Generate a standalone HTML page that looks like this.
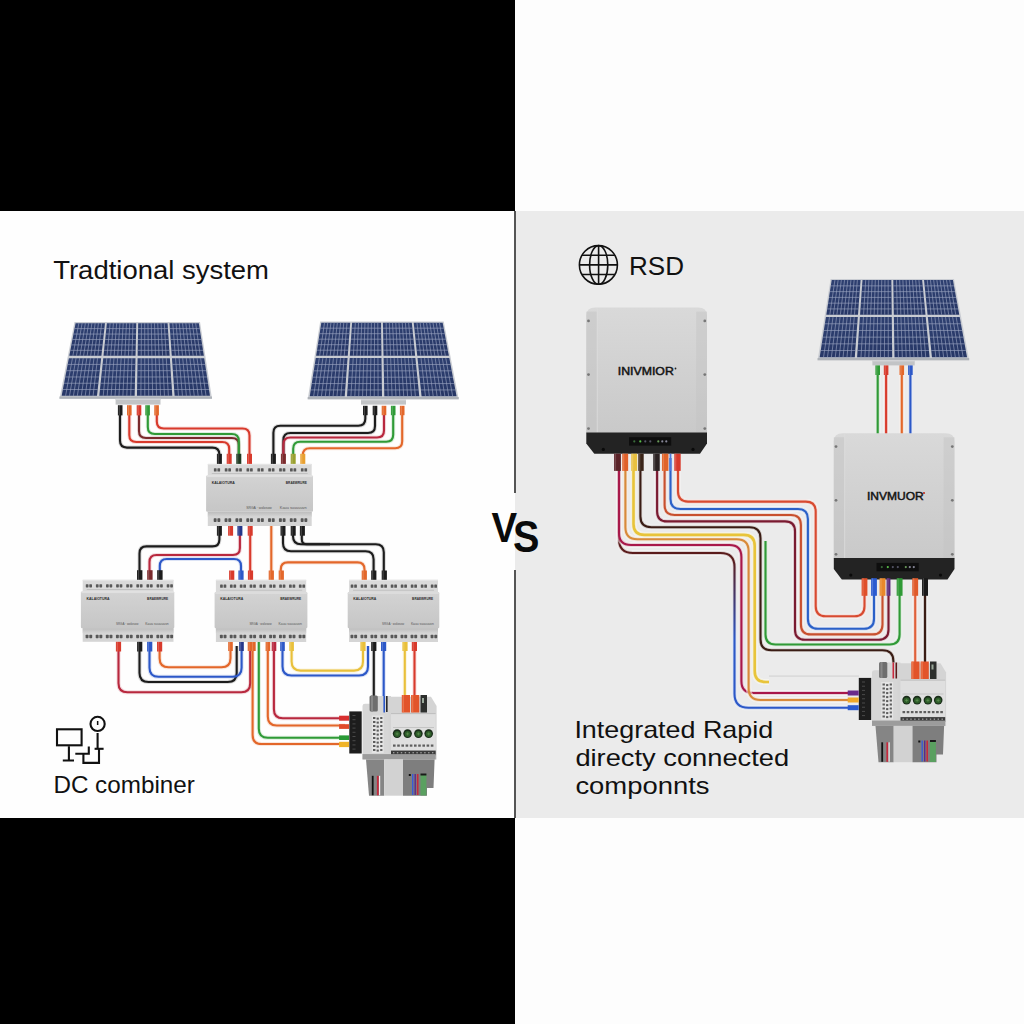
<!DOCTYPE html><html><head><meta charset="utf-8"><style>html,body{margin:0;padding:0;background:#000;}svg{display:block;}text{font-family:"Liberation Sans",sans-serif;}</style></head><body>
<svg width="1024" height="1024" viewBox="0 0 1024 1024">
<defs>
<linearGradient id="cellg" x1="0" y1="0" x2="0.3" y2="1"><stop offset="0" stop-color="#2f4172"/><stop offset="1" stop-color="#273766"/></linearGradient>
<linearGradient id="bodyg" x1="0" y1="0" x2="0" y2="1"><stop offset="0" stop-color="#d3d3d3"/><stop offset="1" stop-color="#c6c6c6"/></linearGradient>
<linearGradient id="invg" x1="0" y1="0" x2="0" y2="1"><stop offset="0" stop-color="#d9d9d9"/><stop offset="1" stop-color="#c9c9c9"/></linearGradient>
<linearGradient id="invs" x1="0" y1="0" x2="0" y2="1"><stop offset="0" stop-color="#cfcfcf"/><stop offset="1" stop-color="#c2c2c2"/></linearGradient>
<linearGradient id="mbg" gradientUnits="userSpaceOnUse" x1="0" y1="560" x2="0" y2="640"><stop offset="0" stop-color="#5a1c1c"/><stop offset="1" stop-color="#2c58c8"/></linearGradient>
<linearGradient id="bandg" x1="0" y1="0" x2="0" y2="1"><stop offset="0" stop-color="#bcbcbc"/><stop offset="1" stop-color="#d5d5d5"/></linearGradient>
</defs>
<rect x="0" y="0" width="1024" height="1024" fill="#000"/>
<rect x="515" y="0" width="509" height="1024" fill="#fdfdfd"/>
<rect x="0" y="211" width="515" height="607" fill="#fefefe"/>
<rect x="515" y="211" width="509" height="607" fill="#ebebeb"/>
<rect x="514" y="211" width="2" height="282" fill="#555"/>
<rect x="514" y="570" width="2" height="248" fill="#555"/>
<text x="53.2" y="279.4" font-size="25.2" fill="#111" textLength="215.8" lengthAdjust="spacingAndGlyphs">Tradtional system</text>
<path d="M120 410 L120 440.6 Q120 447.6 127 447.6 L212.4 447.6 Q219.4 447.6 219.4 454.6 L219.4 458" fill="none" stroke="#1c1c1c" stroke-opacity="0.16" stroke-width="4.1" stroke-linejoin="round"/><path d="M120 410 L120 440.6 Q120 447.6 127 447.6 L212.4 447.6 Q219.4 447.6 219.4 454.6 L219.4 458" fill="none" stroke="#1c1c1c" stroke-width="2.1" stroke-linejoin="round"/>
<path d="M129.3 410 L129.3 435 Q129.3 442 136.3 442 L222.2 442 Q229.2 442 229.2 449 L229.2 458" fill="none" stroke="#d83a2c" stroke-opacity="0.16" stroke-width="4.1" stroke-linejoin="round"/><path d="M129.3 410 L129.3 435 Q129.3 442 136.3 442 L222.2 442 Q229.2 442 229.2 449 L229.2 458" fill="none" stroke="#d83a2c" stroke-width="2.1" stroke-linejoin="round"/>
<path d="M139 410 L139 431 Q139 438 146 438 L231.8 438 Q238.8 438 238.8 445 L238.8 458" fill="none" stroke="#7a2a2c" stroke-opacity="0.16" stroke-width="4.1" stroke-linejoin="round"/><path d="M139 410 L139 431 Q139 438 146 438 L231.8 438 Q238.8 438 238.8 445 L238.8 458" fill="none" stroke="#7a2a2c" stroke-width="2.1" stroke-linejoin="round"/>
<path d="M147.8 410 L147.8 427 Q147.8 434 154.8 434 L231.8 434 Q238.8 434 238.8 441 L238.8 458" fill="none" stroke="#2f9a36" stroke-opacity="0.16" stroke-width="4.1" stroke-linejoin="round"/><path d="M147.8 410 L147.8 427 Q147.8 434 154.8 434 L231.8 434 Q238.8 434 238.8 441 L238.8 458" fill="none" stroke="#2f9a36" stroke-width="2.1" stroke-linejoin="round"/>
<path d="M156.8 410 L156.8 421.5 Q156.8 428.5 163.8 428.5 L242.5 428.5 Q249.5 428.5 249.5 435.5 L249.5 458" fill="none" stroke="#d83a2c" stroke-opacity="0.16" stroke-width="4.1" stroke-linejoin="round"/><path d="M156.8 410 L156.8 421.5 Q156.8 428.5 163.8 428.5 L242.5 428.5 Q249.5 428.5 249.5 435.5 L249.5 458" fill="none" stroke="#d83a2c" stroke-width="2.1" stroke-linejoin="round"/>
<path d="M365.3 410 L365.3 418.7 Q365.3 425.7 358.3 425.7 L280.4 425.7 Q273.4 425.7 273.4 432.7 L273.4 458" fill="none" stroke="#1c1c1c" stroke-opacity="0.16" stroke-width="4.1" stroke-linejoin="round"/><path d="M365.3 410 L365.3 418.7 Q365.3 425.7 358.3 425.7 L280.4 425.7 Q273.4 425.7 273.4 432.7 L273.4 458" fill="none" stroke="#1c1c1c" stroke-width="2.1" stroke-linejoin="round"/>
<path d="M375 410 L375 426 Q375 433 368 433 L290.4 433 Q283.4 433 283.4 440 L283.4 458" fill="none" stroke="#1c1c1c" stroke-opacity="0.16" stroke-width="4.1" stroke-linejoin="round"/><path d="M375 410 L375 426 Q375 433 368 433 L290.4 433 Q283.4 433 283.4 440 L283.4 458" fill="none" stroke="#1c1c1c" stroke-width="2.1" stroke-linejoin="round"/>
<path d="M384 410 L384 430.5 Q384 437.5 377 437.5 L290.4 437.5 Q283.4 437.5 283.4 444.5 L283.4 458" fill="none" stroke="#b8283e" stroke-opacity="0.16" stroke-width="4.1" stroke-linejoin="round"/><path d="M384 410 L384 430.5 Q384 437.5 377 437.5 L290.4 437.5 Q283.4 437.5 283.4 444.5 L283.4 458" fill="none" stroke="#b8283e" stroke-width="2.1" stroke-linejoin="round"/>
<path d="M393.2 410 L393.2 434.8 Q393.2 441.8 386.2 441.8 L300.2 441.8 Q293.2 441.8 293.2 448.8 L293.2 458" fill="none" stroke="#2f9a36" stroke-opacity="0.16" stroke-width="4.1" stroke-linejoin="round"/><path d="M393.2 410 L393.2 434.8 Q393.2 441.8 386.2 441.8 L300.2 441.8 Q293.2 441.8 293.2 448.8 L293.2 458" fill="none" stroke="#2f9a36" stroke-width="2.1" stroke-linejoin="round"/>
<path d="M402.2 410 L402.2 441.2 Q402.2 448.2 395.2 448.2 L309.8 448.2 Q302.8 448.2 302.8 455.2 L302.8 458" fill="none" stroke="#e3672a" stroke-opacity="0.16" stroke-width="4.1" stroke-linejoin="round"/><path d="M402.2 410 L402.2 441.2 Q402.2 448.2 395.2 448.2 L309.8 448.2 Q302.8 448.2 302.8 455.2 L302.8 458" fill="none" stroke="#e3672a" stroke-width="2.1" stroke-linejoin="round"/>
<path d="M219.4 530 L219.4 539.4 Q219.4 546.4 212.4 546.4 L146.5 546.4 Q139.5 546.4 139.5 553.4 L139.5 574" fill="none" stroke="#1c1c1c" stroke-opacity="0.16" stroke-width="4.1" stroke-linejoin="round"/><path d="M219.4 530 L219.4 539.4 Q219.4 546.4 212.4 546.4 L146.5 546.4 Q139.5 546.4 139.5 553.4 L139.5 574" fill="none" stroke="#1c1c1c" stroke-width="2.1" stroke-linejoin="round"/>
<path d="M239.9 530 L239.9 548 Q239.9 555 232.9 555 L156.5 555 Q149.5 555 149.5 562 L149.5 574" fill="none" stroke="#b8283e" stroke-opacity="0.16" stroke-width="4.1" stroke-linejoin="round"/><path d="M239.9 530 L239.9 548 Q239.9 555 232.9 555 L156.5 555 Q149.5 555 149.5 562 L149.5 574" fill="none" stroke="#b8283e" stroke-width="2.1" stroke-linejoin="round"/>
<path d="M159.8 574 L159.8 566 Q159.8 559 166.8 559 L234 559 Q241 559 241 566 L241 574" fill="none" stroke="#2c58c8" stroke-opacity="0.16" stroke-width="4.1" stroke-linejoin="round"/><path d="M159.8 574 L159.8 566 Q159.8 559 166.8 559 L234 559 Q241 559 241 566 L241 574" fill="none" stroke="#2c58c8" stroke-width="2.1" stroke-linejoin="round"/>
<path d="M250.2 530 L250.2 574" fill="none" stroke="#d83a2c" stroke-opacity="0.16" stroke-width="4.1" stroke-linejoin="round"/><path d="M250.2 530 L250.2 574" fill="none" stroke="#d83a2c" stroke-width="2.1" stroke-linejoin="round"/>
<path d="M271.3 526 L271.3 574" fill="none" stroke="#e3672a" stroke-opacity="0.16" stroke-width="4.1" stroke-linejoin="round"/><path d="M271.3 526 L271.3 574" fill="none" stroke="#e3672a" stroke-width="2.1" stroke-linejoin="round"/>
<path d="M283 530 L283 543.2 Q283 551.2 291 551.2 L365.6 551.2 Q373.6 551.2 373.6 559.2 L373.6 574" fill="none" stroke="#1c1c1c" stroke-opacity="0.16" stroke-width="4.1" stroke-linejoin="round"/><path d="M283 530 L283 543.2 Q283 551.2 291 551.2 L365.6 551.2 Q373.6 551.2 373.6 559.2 L373.6 574" fill="none" stroke="#1c1c1c" stroke-width="2.1" stroke-linejoin="round"/>
<path d="M293 530 L293 536.3 Q293 544.3 301 544.3 L375.8 544.3 Q383.8 544.3 383.8 552.3 L383.8 574" fill="none" stroke="#1c1c1c" stroke-opacity="0.16" stroke-width="4.1" stroke-linejoin="round"/><path d="M293 530 L293 536.3 Q293 544.3 301 544.3 L375.8 544.3 Q383.8 544.3 383.8 552.3 L383.8 574" fill="none" stroke="#1c1c1c" stroke-width="2.1" stroke-linejoin="round"/>
<path d="M301.8 530 L301.8 539.3 Q301.8 544.3 306.8 544.3 L330 544.3" fill="none" stroke="#1c1c1c" stroke-opacity="0.16" stroke-width="4.1" stroke-linejoin="round"/><path d="M301.8 530 L301.8 539.3 Q301.8 544.3 306.8 544.3 L330 544.3" fill="none" stroke="#1c1c1c" stroke-width="2.1" stroke-linejoin="round"/>
<path d="M280.8 574 L280.8 569.4 Q280.8 562.4 287.8 562.4 L357.5 562.4 Q364.5 562.4 364.5 569.4 L364.5 574" fill="none" stroke="#e3672a" stroke-opacity="0.16" stroke-width="4.1" stroke-linejoin="round"/><path d="M280.8 574 L280.8 569.4 Q280.8 562.4 287.8 562.4 L357.5 562.4 Q364.5 562.4 364.5 569.4 L364.5 574" fill="none" stroke="#e3672a" stroke-width="2.1" stroke-linejoin="round"/>
<path d="M118.5 646 L118.5 683.3 Q118.5 692.3 127.5 692.3 L241.2 692.3 Q250.2 692.3 250.2 683.3 L250.2 646" fill="none" stroke="#b8283e" stroke-opacity="0.16" stroke-width="4.1" stroke-linejoin="round"/><path d="M118.5 646 L118.5 683.3 Q118.5 692.3 127.5 692.3 L241.2 692.3 Q250.2 692.3 250.2 683.3 L250.2 646" fill="none" stroke="#b8283e" stroke-width="2.1" stroke-linejoin="round"/>
<path d="M139.5 646 L139.5 673 Q139.5 682 148.5 682 L227.7 682 Q236.7 682 236.7 673 L236.7 646" fill="none" stroke="#1c1c1c" stroke-opacity="0.16" stroke-width="4.1" stroke-linejoin="round"/><path d="M139.5 646 L139.5 673 Q139.5 682 148.5 682 L227.7 682 Q236.7 682 236.7 673 L236.7 646" fill="none" stroke="#1c1c1c" stroke-width="2.1" stroke-linejoin="round"/>
<path d="M149.5 646 L149.5 667.7 Q149.5 676.7 158.5 676.7 L232.6 676.7 Q241.6 676.7 241.6 667.7 L241.6 646" fill="none" stroke="#2c58c8" stroke-opacity="0.16" stroke-width="4.1" stroke-linejoin="round"/><path d="M149.5 646 L149.5 667.7 Q149.5 676.7 158.5 676.7 L232.6 676.7 Q241.6 676.7 241.6 667.7 L241.6 646" fill="none" stroke="#2c58c8" stroke-width="2.1" stroke-linejoin="round"/>
<path d="M159.6 646 L159.6 658.3 Q159.6 667.3 168.6 667.3 L221.5 667.3 Q230.5 667.3 230.5 658.3 L230.5 646" fill="none" stroke="#e3672a" stroke-opacity="0.16" stroke-width="4.1" stroke-linejoin="round"/><path d="M159.6 646 L159.6 658.3 Q159.6 667.3 168.6 667.3 L221.5 667.3 Q230.5 667.3 230.5 658.3 L230.5 646" fill="none" stroke="#e3672a" stroke-width="2.1" stroke-linejoin="round"/>
<path d="M282.5 646 L282.5 666.5 Q282.5 675.5 291.5 675.5 L359 675.5 Q368 675.5 368 666.5 L368 646" fill="none" stroke="#2c58c8" stroke-opacity="0.16" stroke-width="4.1" stroke-linejoin="round"/><path d="M282.5 646 L282.5 666.5 Q282.5 675.5 291.5 675.5 L359 675.5 Q368 675.5 368 666.5 L368 646" fill="none" stroke="#2c58c8" stroke-width="2.1" stroke-linejoin="round"/>
<path d="M291.6 646 L291.6 661.6 Q291.6 670.6 300.6 670.6 L354 670.6 Q363 670.6 363 661.6 L363 646" fill="none" stroke="#e9c03a" stroke-opacity="0.16" stroke-width="4.1" stroke-linejoin="round"/><path d="M291.6 646 L291.6 661.6 Q291.6 670.6 300.6 670.6 L354 670.6 Q363 670.6 363 661.6 L363 646" fill="none" stroke="#e9c03a" stroke-width="2.1" stroke-linejoin="round"/>
<path d="M252.6 646 L252.6 735 Q252.6 744 261.6 744 L345 744" fill="none" stroke="#e3672a" stroke-opacity="0.16" stroke-width="4.1" stroke-linejoin="round"/><path d="M252.6 646 L252.6 735 Q252.6 744 261.6 744 L345 744" fill="none" stroke="#e3672a" stroke-width="2.1" stroke-linejoin="round"/>
<path d="M258.8 640 L258.8 728.7 Q258.8 737.7 267.8 737.7 L345 737.7" fill="none" stroke="#2f9a36" stroke-opacity="0.16" stroke-width="4.1" stroke-linejoin="round"/><path d="M258.8 640 L258.8 728.7 Q258.8 737.7 267.8 737.7 L345 737.7" fill="none" stroke="#2f9a36" stroke-width="2.1" stroke-linejoin="round"/>
<path d="M267.8 646 L267.8 716.5 Q267.8 725.5 276.8 725.5 L345 725.5" fill="none" stroke="#e3672a" stroke-opacity="0.16" stroke-width="4.1" stroke-linejoin="round"/><path d="M267.8 646 L267.8 716.5 Q267.8 725.5 276.8 725.5 L345 725.5" fill="none" stroke="#e3672a" stroke-width="2.1" stroke-linejoin="round"/>
<path d="M273.9 646 L273.9 709.2 Q273.9 718.2 282.9 718.2 L345 718.2" fill="none" stroke="#b8283e" stroke-opacity="0.16" stroke-width="4.1" stroke-linejoin="round"/><path d="M273.9 646 L273.9 709.2 Q273.9 718.2 282.9 718.2 L345 718.2" fill="none" stroke="#b8283e" stroke-width="2.1" stroke-linejoin="round"/>
<path d="M373.8 646 L373.8 700" fill="none" stroke="#1c1c1c" stroke-opacity="0.16" stroke-width="4.1" stroke-linejoin="round"/><path d="M373.8 646 L373.8 700" fill="none" stroke="#1c1c1c" stroke-width="2.1" stroke-linejoin="round"/>
<path d="M383.7 646 L383.7 712" fill="none" stroke="#2c58c8" stroke-opacity="0.16" stroke-width="4.1" stroke-linejoin="round"/><path d="M383.7 646 L383.7 712" fill="none" stroke="#2c58c8" stroke-width="2.1" stroke-linejoin="round"/>
<path d="M404.8 646 L404.8 700" fill="none" stroke="#e9c03a" stroke-opacity="0.16" stroke-width="4.1" stroke-linejoin="round"/><path d="M404.8 646 L404.8 700" fill="none" stroke="#e9c03a" stroke-width="2.1" stroke-linejoin="round"/>
<path d="M414.5 646 L414.5 700" fill="none" stroke="#d83a2c" stroke-opacity="0.16" stroke-width="4.1" stroke-linejoin="round"/><path d="M414.5 646 L414.5 700" fill="none" stroke="#d83a2c" stroke-width="2.1" stroke-linejoin="round"/>
<polygon points="74.5,322 200,322 212,398.8 59.5,398.8" fill="#c9ccd2"/>
<polygon points="59.5,396.6 212,396.6 212,398.8 59.5,398.8" fill="#aeb2b8"/>
<polygon points="75.57,323.2 104.97,323.2 101.4,355.74 69.33,355.74" fill="url(#cellg)"/>
<path d="M74.53 328.62L104.37 328.62M73.49 334.05L103.78 334.05M72.45 339.47L103.19 339.47M71.41 344.9L102.59 344.9M70.37 350.32L102 350.32M78.84 323.2L72.9 355.74M82.1 323.2L76.46 355.74M85.37 323.2L80.02 355.74M88.64 323.2L83.59 355.74M91.9 323.2L87.15 355.74M95.17 323.2L90.71 355.74M98.44 323.2L94.28 355.74M101.7 323.2L97.84 355.74" stroke="#9aa3c0" stroke-width="0.75" fill="none" stroke-opacity="0.85"/>
<polygon points="106.87,323.2 136.27,323.2 135.55,355.74 103.48,355.74" fill="url(#cellg)"/>
<path d="M106.31 328.62L136.15 328.62M105.74 334.05L136.03 334.05M105.18 339.47L135.91 339.47M104.61 344.9L135.79 344.9M104.05 350.32L135.67 350.32M110.14 323.2L107.04 355.74M113.41 323.2L110.61 355.74M116.67 323.2L114.17 355.74M119.94 323.2L117.73 355.74M123.21 323.2L121.3 355.74M126.47 323.2L124.86 355.74M129.74 323.2L128.42 355.74M133.01 323.2L131.99 355.74" stroke="#9aa3c0" stroke-width="0.75" fill="none" stroke-opacity="0.85"/>
<polygon points="138.18,323.2 167.58,323.2 169.7,355.74 137.63,355.74" fill="url(#cellg)"/>
<path d="M138.09 328.62L167.93 328.62M138 334.05L168.29 334.05M137.91 339.47L168.64 339.47M137.81 344.9L168.99 344.9M137.72 350.32L169.35 350.32M141.45 323.2L141.19 355.74M144.71 323.2L144.76 355.74M147.98 323.2L148.32 355.74M151.25 323.2L151.88 355.74M154.51 323.2L155.45 355.74M157.78 323.2L159.01 355.74M161.05 323.2L162.57 355.74M164.31 323.2L166.14 355.74" stroke="#9aa3c0" stroke-width="0.75" fill="none" stroke-opacity="0.85"/>
<polygon points="169.48,323.2 198.88,323.2 203.85,355.74 171.78,355.74" fill="url(#cellg)"/>
<path d="M169.87 328.62L199.71 328.62M170.25 334.05L200.54 334.05M170.63 339.47L201.37 339.47M171.01 344.9L202.19 344.9M171.4 350.32L203.02 350.32M172.75 323.2L175.34 355.74M176.02 323.2L178.91 355.74M179.28 323.2L182.47 355.74M182.55 323.2L186.03 355.74M185.82 323.2L189.6 355.74M189.08 323.2L193.16 355.74M192.35 323.2L196.72 355.74M195.62 323.2L200.29 355.74" stroke="#9aa3c0" stroke-width="0.75" fill="none" stroke-opacity="0.85"/>
<polygon points="68.87,358.14 101.14,358.14 97.01,395.8 61.65,395.8" fill="url(#cellg)"/>
<path d="M67.67 364.42L100.45 364.42M66.47 370.7L99.76 370.7M65.26 376.97L99.08 376.97M64.06 383.25L98.39 383.25M62.86 389.52L97.7 389.52M72.46 358.14L65.58 395.8M76.04 358.14L69.51 395.8M79.63 358.14L73.44 395.8M83.21 358.14L77.37 395.8M86.8 358.14L81.3 395.8M90.38 358.14L85.23 395.8M93.97 358.14L89.15 395.8M97.55 358.14L93.08 395.8" stroke="#9aa3c0" stroke-width="0.75" fill="none" stroke-opacity="0.85"/>
<polygon points="103.23,358.14 135.5,358.14 134.66,395.8 99.3,395.8" fill="url(#cellg)"/>
<path d="M102.58 364.42L135.36 364.42M101.92 370.7L135.22 370.7M101.27 376.97L135.08 376.97M100.61 383.25L134.94 383.25M99.96 389.52L134.8 389.52M106.82 358.14L103.23 395.8M110.4 358.14L107.16 395.8M113.99 358.14L111.09 395.8M117.57 358.14L115.02 395.8M121.16 358.14L118.95 395.8M124.74 358.14L122.88 395.8M128.33 358.14L126.81 395.8M131.91 358.14L130.73 395.8" stroke="#9aa3c0" stroke-width="0.75" fill="none" stroke-opacity="0.85"/>
<polygon points="137.59,358.14 169.86,358.14 172.31,395.8 136.95,395.8" fill="url(#cellg)"/>
<path d="M137.48 364.42L170.27 364.42M137.38 370.7L170.68 370.7M137.27 376.97L171.08 376.97M137.17 383.25L171.49 383.25M137.06 389.52L171.9 389.52M141.18 358.14L140.88 395.8M144.76 358.14L144.81 395.8M148.35 358.14L148.74 395.8M151.93 358.14L152.67 395.8M155.52 358.14L156.6 395.8M159.1 358.14L160.53 395.8M162.69 358.14L164.46 395.8M166.27 358.14L168.38 395.8" stroke="#9aa3c0" stroke-width="0.75" fill="none" stroke-opacity="0.85"/>
<polygon points="171.95,358.14 204.22,358.14 209.96,395.8 174.61,395.8" fill="url(#cellg)"/>
<path d="M172.39 364.42L205.17 364.42M172.83 370.7L206.13 370.7M173.28 376.97L207.09 376.97M173.72 383.25L208.05 383.25M174.16 389.52L209 389.52M175.53 358.14L178.53 395.8M179.12 358.14L182.46 395.8M182.7 358.14L186.39 395.8M186.29 358.14L190.32 395.8M189.88 358.14L194.25 395.8M193.46 358.14L198.18 395.8M197.05 358.14L202.11 395.8M200.63 358.14L206.03 395.8" stroke="#9aa3c0" stroke-width="0.75" fill="none" stroke-opacity="0.85"/>
<rect x="115.6" y="398.8" width="44.9" height="5.8" fill="#c2c4c6"/>
<rect x="115.6" y="398.8" width="44.9" height="1.2" fill="#d6d8da"/>
<rect x="117.9" y="405.2" width="4.6" height="10.2" fill="#1c1c1c"/>
<rect x="118.7" y="405.2" width="1.2" height="10.2" fill="#fff" fill-opacity="0.18"/>
<rect x="127" y="405.2" width="4.6" height="10.2" fill="#e3672a"/>
<rect x="127.8" y="405.2" width="1.2" height="10.2" fill="#fff" fill-opacity="0.18"/>
<rect x="136.7" y="405.2" width="4.6" height="10.2" fill="#d83a2c"/>
<rect x="137.5" y="405.2" width="1.2" height="10.2" fill="#fff" fill-opacity="0.18"/>
<rect x="145.3" y="405.2" width="4.6" height="10.2" fill="#2f9a36"/>
<rect x="146.1" y="405.2" width="1.2" height="10.2" fill="#fff" fill-opacity="0.18"/>
<rect x="154.3" y="405.2" width="4.6" height="10.2" fill="#e3672a"/>
<rect x="155.1" y="405.2" width="1.2" height="10.2" fill="#fff" fill-opacity="0.18"/>
<polygon points="320.2,321.5 443.7,321.5 458.7,399.3 307.7,399.3" fill="#c9ccd2"/>
<polygon points="307.7,397.1 458.7,397.1 458.7,399.3 307.7,399.3" fill="#aeb2b8"/>
<polygon points="321.31,322.7 350.21,322.7 347.75,355.7 316.13,355.7" fill="url(#cellg)"/>
<path d="M320.45 328.2L349.8 328.2M319.59 333.7L349.39 333.7M318.72 339.2L348.98 339.2M317.86 344.7L348.57 344.7M317 350.2L348.16 350.2M324.52 322.7L319.65 355.7M327.73 322.7L323.16 355.7M330.94 322.7L326.67 355.7M334.16 322.7L330.19 355.7M337.37 322.7L333.7 355.7M340.58 322.7L337.21 355.7M343.79 322.7L340.73 355.7M347 322.7L344.24 355.7" stroke="#9aa3c0" stroke-width="0.75" fill="none" stroke-opacity="0.85"/>
<polygon points="352.12,322.7 381.02,322.7 381.46,355.7 349.84,355.7" fill="url(#cellg)"/>
<path d="M351.74 328.2L381.09 328.2M351.36 333.7L381.16 333.7M350.98 339.2L381.24 339.2M350.6 344.7L381.31 344.7M350.22 350.2L381.38 350.2M355.33 322.7L353.35 355.7M358.54 322.7L356.86 355.7M361.75 322.7L360.38 355.7M364.96 322.7L363.89 355.7M368.17 322.7L367.4 355.7M371.38 322.7L370.92 355.7M374.59 322.7L374.43 355.7M377.81 322.7L377.94 355.7" stroke="#9aa3c0" stroke-width="0.75" fill="none" stroke-opacity="0.85"/>
<polygon points="382.92,322.7 411.82,322.7 415.16,355.7 383.54,355.7" fill="url(#cellg)"/>
<path d="M383.03 328.2L412.38 328.2M383.13 333.7L412.93 333.7M383.23 339.2L413.49 339.2M383.34 344.7L414.05 344.7M383.44 350.2L414.6 350.2M386.13 322.7L387.06 355.7M389.34 322.7L390.57 355.7M392.56 322.7L394.08 355.7M395.77 322.7L397.6 355.7M398.98 322.7L401.11 355.7M402.19 322.7L404.62 355.7M405.4 322.7L408.13 355.7M408.61 322.7L411.65 355.7" stroke="#9aa3c0" stroke-width="0.75" fill="none" stroke-opacity="0.85"/>
<polygon points="413.73,322.7 442.63,322.7 448.87,355.7 417.25,355.7" fill="url(#cellg)"/>
<path d="M414.31 328.2L443.67 328.2M414.9 333.7L444.71 333.7M415.49 339.2L445.75 339.2M416.07 344.7L446.79 344.7M416.66 350.2L447.83 350.2M416.94 322.7L420.76 355.7M420.15 322.7L424.27 355.7M423.36 322.7L427.79 355.7M426.57 322.7L431.3 355.7M429.78 322.7L434.81 355.7M432.99 322.7L438.33 355.7M436.2 322.7L441.84 355.7M439.42 322.7L445.35 355.7" stroke="#9aa3c0" stroke-width="0.75" fill="none" stroke-opacity="0.85"/>
<polygon points="315.76,358.1 347.57,358.1 344.73,396.3 309.76,396.3" fill="url(#cellg)"/>
<path d="M314.76 364.47L347.1 364.47M313.76 370.83L346.62 370.83M312.76 377.2L346.15 377.2M311.76 383.57L345.67 383.57M310.76 389.93L345.2 389.93M319.29 358.1L313.65 396.3M322.83 358.1L317.53 396.3M326.36 358.1L321.42 396.3M329.9 358.1L325.3 396.3M333.43 358.1L329.19 396.3M336.97 358.1L333.07 396.3M340.5 358.1L336.96 396.3M344.04 358.1L340.84 396.3" stroke="#9aa3c0" stroke-width="0.75" fill="none" stroke-opacity="0.85"/>
<polygon points="349.67,358.1 381.49,358.1 382,396.3 347.03,396.3" fill="url(#cellg)"/>
<path d="M349.23 364.47L381.57 364.47M348.79 370.83L381.66 370.83M348.35 377.2L381.74 377.2M347.91 383.57L381.83 383.57M347.47 389.93L381.91 389.93M353.21 358.1L350.92 396.3M356.74 358.1L354.8 396.3M360.28 358.1L358.69 396.3M363.81 358.1L362.57 396.3M367.35 358.1L366.46 396.3M370.88 358.1L370.34 396.3M374.42 358.1L374.23 396.3M377.95 358.1L378.11 396.3" stroke="#9aa3c0" stroke-width="0.75" fill="none" stroke-opacity="0.85"/>
<polygon points="383.59,358.1 415.4,358.1 419.27,396.3 384.31,396.3" fill="url(#cellg)"/>
<path d="M383.71 364.47L416.05 364.47M383.83 370.83L416.69 370.83M383.95 377.2L417.34 377.2M384.07 383.57L417.98 383.57M384.19 389.93L418.63 389.93M387.12 358.1L388.19 396.3M390.66 358.1L392.08 396.3M394.19 358.1L395.96 396.3M397.73 358.1L399.85 396.3M401.26 358.1L403.73 396.3M404.8 358.1L407.62 396.3M408.33 358.1L411.5 396.3M411.87 358.1L415.39 396.3" stroke="#9aa3c0" stroke-width="0.75" fill="none" stroke-opacity="0.85"/>
<polygon points="417.5,358.1 449.32,358.1 456.54,396.3 421.58,396.3" fill="url(#cellg)"/>
<path d="M418.18 364.47L450.52 364.47M418.86 370.83L451.73 370.83M419.54 377.2L452.93 377.2M420.22 383.57L454.14 383.57M420.9 389.93L455.34 389.93M421.04 358.1L425.46 396.3M424.57 358.1L429.35 396.3M428.11 358.1L433.23 396.3M431.64 358.1L437.12 396.3M435.18 358.1L441 396.3M438.71 358.1L444.89 396.3M442.25 358.1L448.77 396.3M445.78 358.1L452.66 396.3" stroke="#9aa3c0" stroke-width="0.75" fill="none" stroke-opacity="0.85"/>
<rect x="361" y="399.3" width="45" height="5.3" fill="#c2c4c6"/>
<rect x="361" y="399.3" width="45" height="1.2" fill="#d6d8da"/>
<rect x="363" y="405.8" width="4.6" height="9.4" fill="#1c1c1c"/>
<rect x="363.8" y="405.8" width="1.2" height="9.4" fill="#fff" fill-opacity="0.18"/>
<rect x="372.7" y="405.8" width="4.6" height="9.4" fill="#1c1c1c"/>
<rect x="373.5" y="405.8" width="1.2" height="9.4" fill="#fff" fill-opacity="0.18"/>
<rect x="381.7" y="405.8" width="4.6" height="9.4" fill="#e3672a"/>
<rect x="382.5" y="405.8" width="1.2" height="9.4" fill="#fff" fill-opacity="0.18"/>
<rect x="390.9" y="405.8" width="4.6" height="9.4" fill="#2f9a36"/>
<rect x="391.7" y="405.8" width="1.2" height="9.4" fill="#fff" fill-opacity="0.18"/>
<rect x="399.9" y="405.8" width="4.6" height="9.4" fill="#e3672a"/>
<rect x="400.7" y="405.8" width="1.2" height="9.4" fill="#fff" fill-opacity="0.18"/>
<rect x="207.8" y="463.9" width="103.9" height="11.5" fill="#dadada"/>
<rect x="207.8" y="463.9" width="103.9" height="1" fill="#e6e6e6"/>
<rect x="206.1" y="475.4" width="106.9" height="36.4" rx="1.2" fill="url(#bodyg)"/>
<rect x="206.6" y="475.7" width="105.9" height="1.4" fill="#e0e0e0"/>
<rect x="207.8" y="511.8" width="103.9" height="14.2" fill="#d5d5d5"/>
<rect x="207.8" y="511.8" width="103.9" height="5" fill="url(#bandg)"/>
<g fill="#3a3a3a" fill-opacity="0.82"><rect x="213.9" y="468.2" width="2.7" height="3.3" rx="0.6"/><rect x="217.4" y="468.2" width="2.7" height="3.3" rx="0.6"/><rect x="213.7" y="518.3" width="2.9" height="3.6" rx="0.7"/><rect x="217.4" y="518.3" width="2.9" height="3.6" rx="0.7"/><rect x="224.78" y="468.2" width="2.7" height="3.3" rx="0.6"/><rect x="228.28" y="468.2" width="2.7" height="3.3" rx="0.6"/><rect x="224.57" y="518.3" width="2.9" height="3.6" rx="0.7"/><rect x="228.28" y="518.3" width="2.9" height="3.6" rx="0.7"/><rect x="235.65" y="468.2" width="2.7" height="3.3" rx="0.6"/><rect x="239.15" y="468.2" width="2.7" height="3.3" rx="0.6"/><rect x="235.45" y="518.3" width="2.9" height="3.6" rx="0.7"/><rect x="239.15" y="518.3" width="2.9" height="3.6" rx="0.7"/><rect x="246.53" y="468.2" width="2.7" height="3.3" rx="0.6"/><rect x="250.03" y="468.2" width="2.7" height="3.3" rx="0.6"/><rect x="246.32" y="518.3" width="2.9" height="3.6" rx="0.7"/><rect x="250.03" y="518.3" width="2.9" height="3.6" rx="0.7"/><rect x="257.4" y="468.2" width="2.7" height="3.3" rx="0.6"/><rect x="260.9" y="468.2" width="2.7" height="3.3" rx="0.6"/><rect x="257.2" y="518.3" width="2.9" height="3.6" rx="0.7"/><rect x="260.9" y="518.3" width="2.9" height="3.6" rx="0.7"/><rect x="268.27" y="468.2" width="2.7" height="3.3" rx="0.6"/><rect x="271.77" y="468.2" width="2.7" height="3.3" rx="0.6"/><rect x="268.07" y="518.3" width="2.9" height="3.6" rx="0.7"/><rect x="271.77" y="518.3" width="2.9" height="3.6" rx="0.7"/><rect x="279.15" y="468.2" width="2.7" height="3.3" rx="0.6"/><rect x="282.65" y="468.2" width="2.7" height="3.3" rx="0.6"/><rect x="278.95" y="518.3" width="2.9" height="3.6" rx="0.7"/><rect x="282.65" y="518.3" width="2.9" height="3.6" rx="0.7"/><rect x="290.02" y="468.2" width="2.7" height="3.3" rx="0.6"/><rect x="293.52" y="468.2" width="2.7" height="3.3" rx="0.6"/><rect x="289.82" y="518.3" width="2.9" height="3.6" rx="0.7"/><rect x="293.52" y="518.3" width="2.9" height="3.6" rx="0.7"/><rect x="300.9" y="468.2" width="2.7" height="3.3" rx="0.6"/><rect x="304.4" y="468.2" width="2.7" height="3.3" rx="0.6"/><rect x="300.7" y="518.3" width="2.9" height="3.6" rx="0.7"/><rect x="304.4" y="518.3" width="2.9" height="3.6" rx="0.7"/></g>
<rect x="211.8" y="473.2" width="95.9" height="0.8" fill="#bbb"/>
<text x="211.7" y="483.6" font-size="3.9" font-weight="bold" fill="#2a2a2a" textLength="23" lengthAdjust="spacingAndGlyphs">KALAIOTURA</text>
<text x="285.8" y="483.6" font-size="3.9" font-weight="bold" fill="#2a2a2a" textLength="21" lengthAdjust="spacingAndGlyphs">BRAEWRURE</text>
<text x="246.19" y="508.6" font-size="3.2" fill="#555" textLength="25.66" lengthAdjust="spacingAndGlyphs">SRGA · wolosow</text>
<text x="279.86" y="508.6" font-size="3.2" fill="#555" textLength="26.73" lengthAdjust="spacingAndGlyphs">Kauu suuuuuvn</text>
<rect x="82.7" y="579.8" width="90.8" height="11.6" fill="#dadada"/>
<rect x="82.7" y="579.8" width="90.8" height="1" fill="#e6e6e6"/>
<rect x="80.9" y="591.4" width="93.4" height="36.8" rx="1.2" fill="url(#bodyg)"/>
<rect x="81.4" y="591.7" width="92.4" height="1.4" fill="#e0e0e0"/>
<rect x="82.7" y="628.2" width="90.8" height="13.6" fill="#d5d5d5"/>
<rect x="82.7" y="628.2" width="90.8" height="5" fill="url(#bandg)"/>
<g fill="#3a3a3a" fill-opacity="0.82"><rect x="85.8" y="584.15" width="2.7" height="3.3" rx="0.6"/><rect x="89.3" y="584.15" width="2.7" height="3.3" rx="0.6"/><rect x="85.6" y="634.7" width="2.9" height="3.6" rx="0.7"/><rect x="89.3" y="634.7" width="2.9" height="3.6" rx="0.7"/><rect x="95.91" y="584.15" width="2.7" height="3.3" rx="0.6"/><rect x="99.41" y="584.15" width="2.7" height="3.3" rx="0.6"/><rect x="95.71" y="634.7" width="2.9" height="3.6" rx="0.7"/><rect x="99.41" y="634.7" width="2.9" height="3.6" rx="0.7"/><rect x="106.03" y="584.15" width="2.7" height="3.3" rx="0.6"/><rect x="109.53" y="584.15" width="2.7" height="3.3" rx="0.6"/><rect x="105.83" y="634.7" width="2.9" height="3.6" rx="0.7"/><rect x="109.53" y="634.7" width="2.9" height="3.6" rx="0.7"/><rect x="116.14" y="584.15" width="2.7" height="3.3" rx="0.6"/><rect x="119.64" y="584.15" width="2.7" height="3.3" rx="0.6"/><rect x="115.94" y="634.7" width="2.9" height="3.6" rx="0.7"/><rect x="119.64" y="634.7" width="2.9" height="3.6" rx="0.7"/><rect x="126.25" y="584.15" width="2.7" height="3.3" rx="0.6"/><rect x="129.75" y="584.15" width="2.7" height="3.3" rx="0.6"/><rect x="126.05" y="634.7" width="2.9" height="3.6" rx="0.7"/><rect x="129.75" y="634.7" width="2.9" height="3.6" rx="0.7"/><rect x="136.36" y="584.15" width="2.7" height="3.3" rx="0.6"/><rect x="139.86" y="584.15" width="2.7" height="3.3" rx="0.6"/><rect x="136.16" y="634.7" width="2.9" height="3.6" rx="0.7"/><rect x="139.86" y="634.7" width="2.9" height="3.6" rx="0.7"/><rect x="146.48" y="584.15" width="2.7" height="3.3" rx="0.6"/><rect x="149.98" y="584.15" width="2.7" height="3.3" rx="0.6"/><rect x="146.28" y="634.7" width="2.9" height="3.6" rx="0.7"/><rect x="149.98" y="634.7" width="2.9" height="3.6" rx="0.7"/><rect x="156.59" y="584.15" width="2.7" height="3.3" rx="0.6"/><rect x="160.09" y="584.15" width="2.7" height="3.3" rx="0.6"/><rect x="156.39" y="634.7" width="2.9" height="3.6" rx="0.7"/><rect x="160.09" y="634.7" width="2.9" height="3.6" rx="0.7"/><rect x="166.7" y="584.15" width="2.7" height="3.3" rx="0.6"/><rect x="170.2" y="584.15" width="2.7" height="3.3" rx="0.6"/><rect x="166.5" y="634.7" width="2.9" height="3.6" rx="0.7"/><rect x="170.2" y="634.7" width="2.9" height="3.6" rx="0.7"/></g>
<rect x="86.7" y="589.2" width="82.8" height="0.8" fill="#bbb"/>
<text x="86.5" y="599.6" font-size="3.9" font-weight="bold" fill="#2a2a2a" textLength="23" lengthAdjust="spacingAndGlyphs">KALAIOTURA</text>
<text x="147.1" y="599.6" font-size="3.9" font-weight="bold" fill="#2a2a2a" textLength="21" lengthAdjust="spacingAndGlyphs">BRAEWRURE</text>
<text x="115.93" y="625" font-size="3.2" fill="#555" textLength="22.42" lengthAdjust="spacingAndGlyphs">SRGA · wolosow</text>
<text x="145.35" y="625" font-size="3.2" fill="#555" textLength="23.35" lengthAdjust="spacingAndGlyphs">Kauu suuuuuvn</text>
<rect x="215.9" y="579.8" width="90.3" height="12.2" fill="#dadada"/>
<rect x="215.9" y="579.8" width="90.3" height="1" fill="#e6e6e6"/>
<rect x="214.6" y="592" width="92.8" height="36.2" rx="1.2" fill="url(#bodyg)"/>
<rect x="215.1" y="592.3" width="91.8" height="1.4" fill="#e0e0e0"/>
<rect x="215.9" y="628.2" width="90.3" height="13.8" fill="#d5d5d5"/>
<rect x="215.9" y="628.2" width="90.3" height="5" fill="url(#bandg)"/>
<g fill="#3a3a3a" fill-opacity="0.82"><rect x="220.1" y="584.45" width="2.7" height="3.3" rx="0.6"/><rect x="223.6" y="584.45" width="2.7" height="3.3" rx="0.6"/><rect x="219.9" y="634.7" width="2.9" height="3.6" rx="0.7"/><rect x="223.6" y="634.7" width="2.9" height="3.6" rx="0.7"/><rect x="229.95" y="584.45" width="2.7" height="3.3" rx="0.6"/><rect x="233.45" y="584.45" width="2.7" height="3.3" rx="0.6"/><rect x="229.75" y="634.7" width="2.9" height="3.6" rx="0.7"/><rect x="233.45" y="634.7" width="2.9" height="3.6" rx="0.7"/><rect x="239.8" y="584.45" width="2.7" height="3.3" rx="0.6"/><rect x="243.3" y="584.45" width="2.7" height="3.3" rx="0.6"/><rect x="239.6" y="634.7" width="2.9" height="3.6" rx="0.7"/><rect x="243.3" y="634.7" width="2.9" height="3.6" rx="0.7"/><rect x="249.65" y="584.45" width="2.7" height="3.3" rx="0.6"/><rect x="253.15" y="584.45" width="2.7" height="3.3" rx="0.6"/><rect x="249.45" y="634.7" width="2.9" height="3.6" rx="0.7"/><rect x="253.15" y="634.7" width="2.9" height="3.6" rx="0.7"/><rect x="259.5" y="584.45" width="2.7" height="3.3" rx="0.6"/><rect x="263" y="584.45" width="2.7" height="3.3" rx="0.6"/><rect x="259.3" y="634.7" width="2.9" height="3.6" rx="0.7"/><rect x="263" y="634.7" width="2.9" height="3.6" rx="0.7"/><rect x="269.35" y="584.45" width="2.7" height="3.3" rx="0.6"/><rect x="272.85" y="584.45" width="2.7" height="3.3" rx="0.6"/><rect x="269.15" y="634.7" width="2.9" height="3.6" rx="0.7"/><rect x="272.85" y="634.7" width="2.9" height="3.6" rx="0.7"/><rect x="279.2" y="584.45" width="2.7" height="3.3" rx="0.6"/><rect x="282.7" y="584.45" width="2.7" height="3.3" rx="0.6"/><rect x="279" y="634.7" width="2.9" height="3.6" rx="0.7"/><rect x="282.7" y="634.7" width="2.9" height="3.6" rx="0.7"/><rect x="289.05" y="584.45" width="2.7" height="3.3" rx="0.6"/><rect x="292.55" y="584.45" width="2.7" height="3.3" rx="0.6"/><rect x="288.85" y="634.7" width="2.9" height="3.6" rx="0.7"/><rect x="292.55" y="634.7" width="2.9" height="3.6" rx="0.7"/><rect x="298.9" y="584.45" width="2.7" height="3.3" rx="0.6"/><rect x="302.4" y="584.45" width="2.7" height="3.3" rx="0.6"/><rect x="298.7" y="634.7" width="2.9" height="3.6" rx="0.7"/><rect x="302.4" y="634.7" width="2.9" height="3.6" rx="0.7"/></g>
<rect x="219.9" y="589.8" width="82.3" height="0.8" fill="#bbb"/>
<text x="220.2" y="600.2" font-size="3.9" font-weight="bold" fill="#2a2a2a" textLength="23" lengthAdjust="spacingAndGlyphs">KALAIOTURA</text>
<text x="280.2" y="600.2" font-size="3.9" font-weight="bold" fill="#2a2a2a" textLength="21" lengthAdjust="spacingAndGlyphs">BRAEWRURE</text>
<text x="249.4" y="625" font-size="3.2" fill="#555" textLength="22.27" lengthAdjust="spacingAndGlyphs">SRGA · wolosow</text>
<text x="278.63" y="625" font-size="3.2" fill="#555" textLength="23.2" lengthAdjust="spacingAndGlyphs">Kauu suuuuuvn</text>
<rect x="349" y="579.8" width="89" height="12.2" fill="#dadada"/>
<rect x="349" y="579.8" width="89" height="1" fill="#e6e6e6"/>
<rect x="347.7" y="592" width="91.6" height="36.2" rx="1.2" fill="url(#bodyg)"/>
<rect x="348.2" y="592.3" width="90.6" height="1.4" fill="#e0e0e0"/>
<rect x="349" y="628.2" width="89" height="13.8" fill="#d5d5d5"/>
<rect x="349" y="628.2" width="89" height="5" fill="url(#bandg)"/>
<g fill="#3a3a3a" fill-opacity="0.82"><rect x="350.7" y="584.45" width="2.7" height="3.3" rx="0.6"/><rect x="354.2" y="584.45" width="2.7" height="3.3" rx="0.6"/><rect x="350.5" y="634.7" width="2.9" height="3.6" rx="0.7"/><rect x="354.2" y="634.7" width="2.9" height="3.6" rx="0.7"/><rect x="360.71" y="584.45" width="2.7" height="3.3" rx="0.6"/><rect x="364.21" y="584.45" width="2.7" height="3.3" rx="0.6"/><rect x="360.51" y="634.7" width="2.9" height="3.6" rx="0.7"/><rect x="364.21" y="634.7" width="2.9" height="3.6" rx="0.7"/><rect x="370.72" y="584.45" width="2.7" height="3.3" rx="0.6"/><rect x="374.22" y="584.45" width="2.7" height="3.3" rx="0.6"/><rect x="370.52" y="634.7" width="2.9" height="3.6" rx="0.7"/><rect x="374.22" y="634.7" width="2.9" height="3.6" rx="0.7"/><rect x="380.74" y="584.45" width="2.7" height="3.3" rx="0.6"/><rect x="384.24" y="584.45" width="2.7" height="3.3" rx="0.6"/><rect x="380.54" y="634.7" width="2.9" height="3.6" rx="0.7"/><rect x="384.24" y="634.7" width="2.9" height="3.6" rx="0.7"/><rect x="390.75" y="584.45" width="2.7" height="3.3" rx="0.6"/><rect x="394.25" y="584.45" width="2.7" height="3.3" rx="0.6"/><rect x="390.55" y="634.7" width="2.9" height="3.6" rx="0.7"/><rect x="394.25" y="634.7" width="2.9" height="3.6" rx="0.7"/><rect x="400.76" y="584.45" width="2.7" height="3.3" rx="0.6"/><rect x="404.26" y="584.45" width="2.7" height="3.3" rx="0.6"/><rect x="400.56" y="634.7" width="2.9" height="3.6" rx="0.7"/><rect x="404.26" y="634.7" width="2.9" height="3.6" rx="0.7"/><rect x="410.77" y="584.45" width="2.7" height="3.3" rx="0.6"/><rect x="414.27" y="584.45" width="2.7" height="3.3" rx="0.6"/><rect x="410.57" y="634.7" width="2.9" height="3.6" rx="0.7"/><rect x="414.27" y="634.7" width="2.9" height="3.6" rx="0.7"/><rect x="420.79" y="584.45" width="2.7" height="3.3" rx="0.6"/><rect x="424.29" y="584.45" width="2.7" height="3.3" rx="0.6"/><rect x="420.59" y="634.7" width="2.9" height="3.6" rx="0.7"/><rect x="424.29" y="634.7" width="2.9" height="3.6" rx="0.7"/><rect x="430.8" y="584.45" width="2.7" height="3.3" rx="0.6"/><rect x="434.3" y="584.45" width="2.7" height="3.3" rx="0.6"/><rect x="430.6" y="634.7" width="2.9" height="3.6" rx="0.7"/><rect x="434.3" y="634.7" width="2.9" height="3.6" rx="0.7"/></g>
<rect x="353" y="589.8" width="81" height="0.8" fill="#bbb"/>
<text x="353.3" y="600.2" font-size="3.9" font-weight="bold" fill="#2a2a2a" textLength="23" lengthAdjust="spacingAndGlyphs">KALAIOTURA</text>
<text x="412.1" y="600.2" font-size="3.9" font-weight="bold" fill="#2a2a2a" textLength="21" lengthAdjust="spacingAndGlyphs">BRAEWRURE</text>
<text x="382.05" y="625" font-size="3.2" fill="#555" textLength="21.98" lengthAdjust="spacingAndGlyphs">SRGA · wolosow</text>
<text x="410.9" y="625" font-size="3.2" fill="#555" textLength="22.9" lengthAdjust="spacingAndGlyphs">Kauu suuuuuvn</text>
<rect x="216.9" y="453.8" width="5" height="10.1" fill="#1c1c1c"/>
<rect x="217.7" y="453.8" width="1.2" height="10.1" fill="#fff" fill-opacity="0.18"/>
<rect x="226.7" y="453.8" width="5" height="10.1" fill="#d83a2c"/>
<rect x="227.5" y="453.8" width="1.2" height="10.1" fill="#fff" fill-opacity="0.18"/>
<rect x="236.3" y="453.8" width="5" height="10.1" fill="#1f3a22"/>
<rect x="237.1" y="453.8" width="1.2" height="10.1" fill="#fff" fill-opacity="0.18"/>
<rect x="247" y="453.8" width="5" height="10.1" fill="#d83a2c"/>
<rect x="247.8" y="453.8" width="1.2" height="10.1" fill="#fff" fill-opacity="0.18"/>
<rect x="270.9" y="453.8" width="5" height="10.1" fill="#1c1c1c"/>
<rect x="271.7" y="453.8" width="1.2" height="10.1" fill="#fff" fill-opacity="0.18"/>
<rect x="280.9" y="453.8" width="5" height="10.1" fill="#7a2a2c"/>
<rect x="281.7" y="453.8" width="1.2" height="10.1" fill="#fff" fill-opacity="0.18"/>
<rect x="290.7" y="453.8" width="5" height="10.1" fill="#9aa030"/>
<rect x="291.5" y="453.8" width="1.2" height="10.1" fill="#fff" fill-opacity="0.18"/>
<rect x="300.3" y="453.8" width="5" height="10.1" fill="#e8a030"/>
<rect x="301.1" y="453.8" width="1.2" height="10.1" fill="#fff" fill-opacity="0.18"/>
<rect x="216.9" y="526" width="5" height="9.7" fill="#1c1c1c"/>
<rect x="217.7" y="526" width="1.2" height="9.7" fill="#fff" fill-opacity="0.18"/>
<rect x="228.1" y="526" width="5" height="9.7" fill="#d83a2c"/>
<rect x="228.9" y="526" width="1.2" height="9.7" fill="#fff" fill-opacity="0.18"/>
<rect x="237.4" y="526" width="5" height="9.7" fill="#24368a"/>
<rect x="238.2" y="526" width="1.2" height="9.7" fill="#fff" fill-opacity="0.18"/>
<rect x="247.7" y="526" width="5" height="9.7" fill="#d83a2c"/>
<rect x="248.5" y="526" width="1.2" height="9.7" fill="#fff" fill-opacity="0.18"/>
<rect x="280.5" y="526" width="5" height="9.7" fill="#1c1c1c"/>
<rect x="281.3" y="526" width="1.2" height="9.7" fill="#fff" fill-opacity="0.18"/>
<rect x="290.7" y="526" width="5" height="9.7" fill="#1c1c1c"/>
<rect x="291.5" y="526" width="1.2" height="9.7" fill="#fff" fill-opacity="0.18"/>
<rect x="299.9" y="526" width="5" height="9.7" fill="#1c1c1c"/>
<rect x="300.7" y="526" width="1.2" height="9.7" fill="#fff" fill-opacity="0.18"/>
<rect x="137" y="570.2" width="5.4" height="9.6" fill="#1c1c1c"/>
<rect x="137.8" y="570.2" width="1.2" height="9.6" fill="#fff" fill-opacity="0.18"/>
<rect x="147.2" y="570.2" width="5.4" height="9.6" fill="#7a2a2c"/>
<rect x="148" y="570.2" width="1.2" height="9.6" fill="#fff" fill-opacity="0.18"/>
<rect x="157.2" y="570.2" width="5.4" height="9.6" fill="#1c1c1c"/>
<rect x="158" y="570.2" width="1.2" height="9.6" fill="#fff" fill-opacity="0.18"/>
<rect x="115.9" y="641.8" width="5.2" height="9.7" fill="#d83a2c"/>
<rect x="116.7" y="641.8" width="1.2" height="9.7" fill="#fff" fill-opacity="0.18"/>
<rect x="137.1" y="641.8" width="5.2" height="9.7" fill="#1c1c1c"/>
<rect x="137.9" y="641.8" width="1.2" height="9.7" fill="#fff" fill-opacity="0.18"/>
<rect x="147.1" y="641.8" width="5.2" height="9.7" fill="#2c58c8"/>
<rect x="147.9" y="641.8" width="1.2" height="9.7" fill="#fff" fill-opacity="0.18"/>
<rect x="157" y="641.8" width="5.2" height="9.7" fill="#d83a2c"/>
<rect x="157.8" y="641.8" width="1.2" height="9.7" fill="#fff" fill-opacity="0.18"/>
<rect x="229.1" y="570.5" width="5.2" height="9.3" fill="#d83a2c"/>
<rect x="229.9" y="570.5" width="1.2" height="9.3" fill="#fff" fill-opacity="0.18"/>
<rect x="238.4" y="570.5" width="5.2" height="9.3" fill="#2c58c8"/>
<rect x="239.2" y="570.5" width="1.2" height="9.3" fill="#fff" fill-opacity="0.18"/>
<rect x="247.9" y="570.5" width="5.2" height="9.3" fill="#d83a2c"/>
<rect x="248.7" y="570.5" width="1.2" height="9.3" fill="#fff" fill-opacity="0.18"/>
<rect x="268.7" y="570.5" width="5.2" height="9.3" fill="#e3672a"/>
<rect x="269.5" y="570.5" width="1.2" height="9.3" fill="#fff" fill-opacity="0.18"/>
<rect x="278.7" y="570.5" width="5.2" height="9.3" fill="#e3672a"/>
<rect x="279.5" y="570.5" width="1.2" height="9.3" fill="#fff" fill-opacity="0.18"/>
<rect x="228.2" y="642" width="4.6" height="9" fill="#e3672a"/>
<rect x="229" y="642" width="1.2" height="9" fill="#fff" fill-opacity="0.18"/>
<rect x="239.2" y="642" width="4.6" height="9" fill="#24368a"/>
<rect x="240" y="642" width="1.2" height="9" fill="#fff" fill-opacity="0.18"/>
<rect x="247.7" y="642" width="4.6" height="9" fill="#e3672a"/>
<rect x="248.5" y="642" width="1.2" height="9" fill="#fff" fill-opacity="0.18"/>
<rect x="251.1" y="642" width="4.6" height="9" fill="#e3672a"/>
<rect x="251.9" y="642" width="1.2" height="9" fill="#fff" fill-opacity="0.18"/>
<rect x="265.6" y="642" width="4.6" height="9" fill="#e3672a"/>
<rect x="266.4" y="642" width="1.2" height="9" fill="#fff" fill-opacity="0.18"/>
<rect x="271.7" y="642" width="4.6" height="9" fill="#b8283e"/>
<rect x="272.5" y="642" width="1.2" height="9" fill="#fff" fill-opacity="0.18"/>
<rect x="280.2" y="642" width="4.6" height="9" fill="#2c58c8"/>
<rect x="281" y="642" width="1.2" height="9" fill="#fff" fill-opacity="0.18"/>
<rect x="289.3" y="642" width="4.6" height="9" fill="#e9c03a"/>
<rect x="290.1" y="642" width="1.2" height="9" fill="#fff" fill-opacity="0.18"/>
<rect x="361.7" y="570.5" width="5.2" height="9.3" fill="#e3672a"/>
<rect x="362.5" y="570.5" width="1.2" height="9.3" fill="#fff" fill-opacity="0.18"/>
<rect x="371.2" y="570.5" width="5.2" height="9.3" fill="#1c1c1c"/>
<rect x="372" y="570.5" width="1.2" height="9.3" fill="#fff" fill-opacity="0.18"/>
<rect x="381.7" y="570.5" width="5.2" height="9.3" fill="#1c1c1c"/>
<rect x="382.5" y="570.5" width="1.2" height="9.3" fill="#fff" fill-opacity="0.18"/>
<rect x="360.4" y="642" width="5.2" height="9" fill="#e9c03a"/>
<rect x="361.2" y="642" width="1.2" height="9" fill="#fff" fill-opacity="0.18"/>
<rect x="371.2" y="642" width="5.2" height="9" fill="#1c1c1c"/>
<rect x="372" y="642" width="1.2" height="9" fill="#fff" fill-opacity="0.18"/>
<rect x="381" y="642" width="5.2" height="9" fill="#2c58c8"/>
<rect x="381.8" y="642" width="1.2" height="9" fill="#fff" fill-opacity="0.18"/>
<rect x="402.4" y="642" width="5.2" height="9" fill="#e9c03a"/>
<rect x="403.2" y="642" width="1.2" height="9" fill="#fff" fill-opacity="0.18"/>
<rect x="411.8" y="642" width="5.2" height="9" fill="#d83a2c"/>
<rect x="412.6" y="642" width="1.2" height="9" fill="#fff" fill-opacity="0.18"/>
<g transform="translate(0 0)"><path d="M362.5 706 Q362.5 703.7 365 703.7 L369.6 703.7 L369.6 696 L391 696 L391 759.4 L362.5 759.4 Z" fill="#d6d6d6"/><rect x="369.6" y="695.5" width="8.2" height="16" rx="1.5" fill="#6e6e6e"/><rect x="371" y="695.5" width="2" height="16" fill="#888"/><rect x="383.4" y="696" width="1.6" height="16.5" fill="#2c58c8"/><rect x="386" y="696" width="1.6" height="16" fill="#2a2a2a"/><rect x="371.9" y="715.5" width="11.7" height="37.5" fill="#e4e4e4"/><g fill="#3a3a3a" fill-opacity="0.8"><rect x="373" y="717" width="2.4" height="2"/><rect x="376.6" y="717.6" width="2.2" height="2"/><rect x="380.2" y="717" width="2.2" height="2"/><rect x="373" y="721" width="2.4" height="2"/><rect x="376.6" y="721.6" width="2.2" height="2"/><rect x="380.2" y="721" width="2.2" height="2"/><rect x="373" y="725" width="2.4" height="2"/><rect x="376.6" y="725.6" width="2.2" height="2"/><rect x="380.2" y="725" width="2.2" height="2"/><rect x="373" y="729" width="2.4" height="2"/><rect x="376.6" y="729.6" width="2.2" height="2"/><rect x="380.2" y="729" width="2.2" height="2"/><rect x="373" y="733" width="2.4" height="2"/><rect x="376.6" y="733.6" width="2.2" height="2"/><rect x="380.2" y="733" width="2.2" height="2"/><rect x="373" y="737" width="2.4" height="2"/><rect x="376.6" y="737.6" width="2.2" height="2"/><rect x="380.2" y="737" width="2.2" height="2"/><rect x="373" y="741" width="2.4" height="2"/><rect x="376.6" y="741.6" width="2.2" height="2"/><rect x="380.2" y="741" width="2.2" height="2"/><rect x="373" y="745" width="2.4" height="2"/><rect x="376.6" y="745.6" width="2.2" height="2"/><rect x="380.2" y="745" width="2.2" height="2"/><rect x="373" y="749" width="2.4" height="2"/><rect x="376.6" y="749.6" width="2.2" height="2"/><rect x="380.2" y="749" width="2.2" height="2"/></g><path d="M388.3 696.7 L431 696.7 L436.6 706 L436.6 759.4 L388.3 759.4 Z" fill="#d4d4d4"/><rect x="391" y="713.1" width="44.7" height="37" fill="#dfdfdf"/><rect x="391" y="713.1" width="44.7" height="1" fill="#bdbdbd"/><rect x="393" y="727" width="41" height="1" fill="#c4c4c4"/><rect x="401.8" y="695" width="8.2" height="17.5" fill="#e2542a"/><rect x="411.1" y="695" width="8.2" height="17.5" fill="#e2542a"/><rect x="402.5" y="695" width="1.5" height="17.5" fill="#f08a60" fill-opacity="0.6"/><rect x="411.8" y="695" width="1.5" height="17.5" fill="#f08a60" fill-opacity="0.6"/><rect x="420.5" y="695" width="6.5" height="17.5" fill="#2d2f2d"/><rect x="422" y="698" width="2" height="5" fill="#9aa89a"/><circle cx="397.1" cy="733.6" r="4.3" fill="#1a2c1a"/><circle cx="397.1" cy="733.9" r="3.0" fill="#2e5e2a"/><path d="M395.6 733.9 h3 M397.1 732.4 v3" stroke="#6a9a5a" stroke-width="0.6"/><circle cx="407.6" cy="733.6" r="4.3" fill="#1a2c1a"/><circle cx="407.6" cy="733.9" r="3.0" fill="#2e5e2a"/><path d="M406.1 733.9 h3 M407.6 732.4 v3" stroke="#6a9a5a" stroke-width="0.6"/><circle cx="418.4" cy="733.6" r="4.3" fill="#1a2c1a"/><circle cx="418.4" cy="733.9" r="3.0" fill="#2e5e2a"/><path d="M416.9 733.9 h3 M418.4 732.4 v3" stroke="#6a9a5a" stroke-width="0.6"/><circle cx="428.7" cy="733.6" r="4.3" fill="#1a2c1a"/><circle cx="428.7" cy="733.9" r="3.0" fill="#2e5e2a"/><path d="M427.2 733.9 h3 M428.7 732.4 v3" stroke="#6a9a5a" stroke-width="0.6"/><g fill="#333" fill-opacity="0.75"><rect x="393" y="744.5" width="2.6" height="2.2"/><rect x="397.2" y="744.5" width="2.6" height="2.2"/><rect x="401.4" y="744.5" width="2.6" height="2.2"/><rect x="405.6" y="744.5" width="2.6" height="2.2"/><rect x="409.8" y="744.5" width="2.6" height="2.2"/><rect x="414" y="744.5" width="2.6" height="2.2"/><rect x="418.2" y="744.5" width="2.6" height="2.2"/><rect x="422.4" y="744.5" width="2.6" height="2.2"/><rect x="426.6" y="744.5" width="2.6" height="2.2"/><rect x="430.8" y="744.5" width="2.6" height="2.2"/></g><rect x="391" y="750.6" width="44.7" height="4.7" fill="#3b3b3b"/><g fill="#9a9a9a"><rect x="393" y="752" width="1.4" height="1.4"/><rect x="396.9" y="752" width="1.4" height="1.4"/><rect x="400.8" y="752" width="1.4" height="1.4"/><rect x="404.7" y="752" width="1.4" height="1.4"/><rect x="408.6" y="752" width="1.4" height="1.4"/><rect x="412.5" y="752" width="1.4" height="1.4"/><rect x="416.4" y="752" width="1.4" height="1.4"/><rect x="420.3" y="752" width="1.4" height="1.4"/><rect x="424.2" y="752" width="1.4" height="1.4"/><rect x="428.1" y="752" width="1.4" height="1.4"/><rect x="432" y="752" width="1.4" height="1.4"/></g><rect x="362.5" y="754.1" width="73.2" height="5.3" fill="#9c9c9c"/><path d="M366 759.4 L384.2 759.4 L384.2 795.7 L369 795.7 Z" fill="#858585"/><rect x="384.2" y="759.4" width="18.8" height="36.3" fill="#d2d2d2"/><path d="M403 759.4 L434.6 759.4 L433.5 788 L427 788 L427 795.7 L403 795.7 Z" fill="#7e7e7e"/><rect x="371.8" y="775.8" width="1.8" height="19.5" fill="#111"/><rect x="376.9" y="775.8" width="1.8" height="19.5" fill="#c8283c"/><rect x="379" y="775.8" width="1.2" height="19.5" fill="#eee"/><rect x="408.8" y="774" width="2" height="2" fill="#111"/><rect x="412" y="774" width="1.4" height="21" fill="#3a5ad8"/><rect x="414.5" y="774" width="1.4" height="21" fill="#5a2a8a"/><rect x="416.9" y="774" width="1.6" height="21" fill="#c8283c"/><rect x="420.5" y="774" width="5.9" height="21.5" fill="#5aa060"/><rect x="420.5" y="773.5" width="5.9" height="2" fill="#1a1a1a"/><rect x="349.3" y="711.4" width="12.4" height="42.1" fill="#1d1d1d"/><g fill="#4a4a4a"><rect x="352.5" y="715" width="3" height="1" /><rect x="352.5" y="719.2" width="3" height="1" /><rect x="352.5" y="723.4" width="3" height="1" /><rect x="352.5" y="727.6" width="3" height="1" /><rect x="352.5" y="731.8" width="3" height="1" /><rect x="352.5" y="736" width="3" height="1" /><rect x="352.5" y="740.2" width="3" height="1" /><rect x="352.5" y="744.4" width="3" height="1" /><rect x="352.5" y="748.6" width="3" height="1" /></g></g>
<rect x="339.1" y="715.7" width="9.9" height="5" fill="#d83030"/>
<rect x="339.1" y="724.2" width="9.9" height="4.7" fill="#e04a2a"/>
<rect x="339.1" y="735.4" width="9.9" height="4.6" fill="#2a9a36"/>
<rect x="339.1" y="741.8" width="9.9" height="5.3" fill="#f0b428"/>
<g fill="none" stroke="#111" stroke-width="2.1"><rect x="57" y="729.3" width="24.6" height="16"/><path d="M68.9 746.3 V760.5 M62.8 760.5 H74"/><path d="M75.3 753.7 H88.8 V746.6"/><path d="M83.4 753.7 V762.9 H99 V748.8"/><path d="M94.6 748.8 H103.6"/><path d="M97.6 748.8 V733"/><circle cx="97.6" cy="723.9" r="7.1"/></g>
<rect x="96.9" y="721" width="1.5" height="4" fill="#111"/>
<text x="53.4" y="793.4" font-size="23.4" fill="#111" textLength="141.4" lengthAdjust="spacingAndGlyphs">DC combiner</text>
<g fill="none" stroke="#111" stroke-width="1.6"><ellipse cx="598.4" cy="264.95" rx="19" ry="19.35"/><ellipse cx="598.7" cy="264.95" rx="9.1" ry="19.35"/><path d="M598.6 245.6 V284.3 M579.4 264.9 H617.4 M582 255.3 H614.8 M582 274.5 H614.8"/></g>
<text x="629" y="274.5" font-size="26" fill="#111" textLength="55" lengthAdjust="spacingAndGlyphs">RSD</text>
<path d="M619 465 L619 539 Q619 553 633 553 L720.5 553 Q734.5 553 734.5 567 L734.5 693.7 Q734.5 707.7 748.5 707.7 L848 707.7" fill="none" stroke="#fff" stroke-opacity="0.55" stroke-width="5.3" stroke-linejoin="round"/><path d="M619 465 L619 539 Q619 553 633 553 L720.5 553 Q734.5 553 734.5 567 L734.5 693.7 Q734.5 707.7 748.5 707.7 L848 707.7" fill="none" stroke="url(#mbg)" stroke-opacity="0.16" stroke-width="4.1" stroke-linejoin="round"/><path d="M619 465 L619 539 Q619 553 633 553 L720.5 553 Q734.5 553 734.5 567 L734.5 693.7 Q734.5 707.7 748.5 707.7 L848 707.7" fill="none" stroke="url(#mbg)" stroke-width="2.1" stroke-linejoin="round"/>
<path d="M619 465 L619 533 Q619 545 631 545 L729.4 545 Q741.4 545 741.4 557 L741.4 681 Q741.4 693 753.4 693 L848 693" fill="none" stroke="#fff" stroke-opacity="0.55" stroke-width="5.3" stroke-linejoin="round"/><path d="M619 465 L619 533 Q619 545 631 545 L729.4 545 Q741.4 545 741.4 557 L741.4 681 Q741.4 693 753.4 693 L848 693" fill="none" stroke="#a8184a" stroke-opacity="0.16" stroke-width="4.1" stroke-linejoin="round"/><path d="M619 465 L619 533 Q619 545 631 545 L729.4 545 Q741.4 545 741.4 557 L741.4 681 Q741.4 693 753.4 693 L848 693" fill="none" stroke="#a8184a" stroke-width="2.1" stroke-linejoin="round"/>
<path d="M625.4 465 L625.4 527.2 Q625.4 539.2 637.4 539.2 L736.6 539.2 Q748.6 539.2 748.6 551.2 L748.6 688 Q748.6 700 760.6 700 L848 700" fill="none" stroke="#fff" stroke-opacity="0.55" stroke-width="5.3" stroke-linejoin="round"/><path d="M625.4 465 L625.4 527.2 Q625.4 539.2 637.4 539.2 L736.6 539.2 Q748.6 539.2 748.6 551.2 L748.6 688 Q748.6 700 760.6 700 L848 700" fill="none" stroke="#d88a3a" stroke-opacity="0.16" stroke-width="4.1" stroke-linejoin="round"/><path d="M625.4 465 L625.4 527.2 Q625.4 539.2 637.4 539.2 L736.6 539.2 Q748.6 539.2 748.6 551.2 L748.6 688 Q748.6 700 760.6 700 L848 700" fill="none" stroke="#d88a3a" stroke-width="2.1" stroke-linejoin="round"/>
<path d="M633.5 465 L633.5 523.9 Q633.5 534.9 644.5 534.9 L743.7 534.9 Q754.7 534.9 754.7 545.9 L754.7 671 Q754.7 682 765.7 682 L769 682" fill="none" stroke="#fff" stroke-opacity="0.55" stroke-width="5.8" stroke-linejoin="round"/><path d="M633.5 465 L633.5 523.9 Q633.5 534.9 644.5 534.9 L743.7 534.9 Q754.7 534.9 754.7 545.9 L754.7 671 Q754.7 682 765.7 682 L769 682" fill="none" stroke="#e8c43a" stroke-opacity="0.16" stroke-width="4.6" stroke-linejoin="round"/><path d="M633.5 465 L633.5 523.9 Q633.5 534.9 644.5 534.9 L743.7 534.9 Q754.7 534.9 754.7 545.9 L754.7 671 Q754.7 682 765.7 682 L769 682" fill="none" stroke="#e8c43a" stroke-width="2.6" stroke-linejoin="round"/>
<path d="M640.4 465 L640.4 516.3 Q640.4 527.3 651.4 527.3 L749.5 527.3 Q760.5 527.3 760.5 538.3 L760.5 639.3 Q760.5 650.3 771.5 650.3 L882.4 650.3 Q893.4 650.3 893.4 661.3 L893.4 668" fill="none" stroke="#fff" stroke-opacity="0.55" stroke-width="5.3" stroke-linejoin="round"/><path d="M640.4 465 L640.4 516.3 Q640.4 527.3 651.4 527.3 L749.5 527.3 Q760.5 527.3 760.5 538.3 L760.5 639.3 Q760.5 650.3 771.5 650.3 L882.4 650.3 Q893.4 650.3 893.4 661.3 L893.4 668" fill="none" stroke="#3a1c14" stroke-opacity="0.16" stroke-width="4.1" stroke-linejoin="round"/><path d="M640.4 465 L640.4 516.3 Q640.4 527.3 651.4 527.3 L749.5 527.3 Q760.5 527.3 760.5 538.3 L760.5 639.3 Q760.5 650.3 771.5 650.3 L882.4 650.3 Q893.4 650.3 893.4 661.3 L893.4 668" fill="none" stroke="#3a1c14" stroke-width="2.1" stroke-linejoin="round"/>
<path d="M899.6 590 L899.6 634.5 Q899.6 644.5 889.6 644.5 L775.5 644.5 Q765.5 644.5 765.5 634.5 L765.5 541" fill="none" stroke="#fff" stroke-opacity="0.55" stroke-width="5.3" stroke-linejoin="round"/><path d="M899.6 590 L899.6 634.5 Q899.6 644.5 889.6 644.5 L775.5 644.5 Q765.5 644.5 765.5 634.5 L765.5 541" fill="none" stroke="#2f9a36" stroke-opacity="0.16" stroke-width="4.1" stroke-linejoin="round"/><path d="M899.6 590 L899.6 634.5 Q899.6 644.5 889.6 644.5 L775.5 644.5 Q765.5 644.5 765.5 634.5 L765.5 541" fill="none" stroke="#2f9a36" stroke-width="2.1" stroke-linejoin="round"/>
<path d="M678 465 L678 491.6 Q678 501.6 688 501.6 L805.7 501.6 Q815.7 501.6 815.7 511.6 L815.7 606.3 Q815.7 616.3 825.7 616.3 L854.5 616.3 Q864.5 616.3 864.5 606.3 L864.5 590" fill="none" stroke="#fff" stroke-opacity="0.55" stroke-width="5.3" stroke-linejoin="round"/><path d="M678 465 L678 491.6 Q678 501.6 688 501.6 L805.7 501.6 Q815.7 501.6 815.7 511.6 L815.7 606.3 Q815.7 616.3 825.7 616.3 L854.5 616.3 Q864.5 616.3 864.5 606.3 L864.5 590" fill="none" stroke="#d84a30" stroke-opacity="0.16" stroke-width="4.1" stroke-linejoin="round"/><path d="M678 465 L678 491.6 Q678 501.6 688 501.6 L805.7 501.6 Q815.7 501.6 815.7 511.6 L815.7 606.3 Q815.7 616.3 825.7 616.3 L854.5 616.3 Q864.5 616.3 864.5 606.3 L864.5 590" fill="none" stroke="#d84a30" stroke-width="2.1" stroke-linejoin="round"/>
<path d="M670.5 458 L670.5 499 Q670.5 509 680.5 509 L797.9 509 Q807.9 509 807.9 519 L807.9 618.7 Q807.9 628.7 817.9 628.7 L864 628.7 Q874 628.7 874 618.7 L874 590" fill="none" stroke="#fff" stroke-opacity="0.55" stroke-width="5.3" stroke-linejoin="round"/><path d="M670.5 458 L670.5 499 Q670.5 509 680.5 509 L797.9 509 Q807.9 509 807.9 519 L807.9 618.7 Q807.9 628.7 817.9 628.7 L864 628.7 Q874 628.7 874 618.7 L874 590" fill="none" stroke="#2a60c8" stroke-opacity="0.16" stroke-width="4.1" stroke-linejoin="round"/><path d="M670.5 458 L670.5 499 Q670.5 509 680.5 509 L797.9 509 Q807.9 509 807.9 519 L807.9 618.7 Q807.9 628.7 817.9 628.7 L864 628.7 Q874 628.7 874 618.7 L874 590" fill="none" stroke="#2a60c8" stroke-width="2.1" stroke-linejoin="round"/>
<path d="M664.6 465 L664.6 505 Q664.6 515 674.6 515 L790.9 515 Q800.9 515 800.9 525 L800.9 624.4 Q800.9 634.4 810.9 634.4 L872.5 634.4 Q882.5 634.4 882.5 624.4 L882.5 590" fill="none" stroke="#fff" stroke-opacity="0.55" stroke-width="5.3" stroke-linejoin="round"/><path d="M664.6 465 L664.6 505 Q664.6 515 674.6 515 L790.9 515 Q800.9 515 800.9 525 L800.9 624.4 Q800.9 634.4 810.9 634.4 L872.5 634.4 Q882.5 634.4 882.5 624.4 L882.5 590" fill="none" stroke="#c8502e" stroke-opacity="0.16" stroke-width="4.1" stroke-linejoin="round"/><path d="M664.6 465 L664.6 505 Q664.6 515 674.6 515 L790.9 515 Q800.9 515 800.9 525 L800.9 624.4 Q800.9 634.4 810.9 634.4 L872.5 634.4 Q882.5 634.4 882.5 624.4 L882.5 590" fill="none" stroke="#c8502e" stroke-width="2.1" stroke-linejoin="round"/>
<path d="M657.1 465 L657.1 511.4 Q657.1 521.4 667.1 521.4 L785 521.4 Q795 521.4 795 531.4 L795 629.8 Q795 639.8 805 639.8 L878.5 639.8 Q888.5 639.8 888.5 629.8 L888.5 590" fill="none" stroke="#fff" stroke-opacity="0.55" stroke-width="5.3" stroke-linejoin="round"/><path d="M657.1 465 L657.1 511.4 Q657.1 521.4 667.1 521.4 L785 521.4 Q795 521.4 795 531.4 L795 629.8 Q795 639.8 805 639.8 L878.5 639.8 Q888.5 639.8 888.5 629.8 L888.5 590" fill="none" stroke="#7a1a30" stroke-opacity="0.16" stroke-width="4.1" stroke-linejoin="round"/><path d="M657.1 465 L657.1 511.4 Q657.1 521.4 667.1 521.4 L785 521.4 Q795 521.4 795 531.4 L795 629.8 Q795 639.8 805 639.8 L878.5 639.8 Q888.5 639.8 888.5 629.8 L888.5 590" fill="none" stroke="#7a1a30" stroke-width="2.1" stroke-linejoin="round"/>
<path d="M915.2 590 L915.2 668" fill="none" stroke="#fff" stroke-opacity="0.55" stroke-width="5.3" stroke-linejoin="round"/><path d="M915.2 590 L915.2 668" fill="none" stroke="#e0603a" stroke-opacity="0.16" stroke-width="4.1" stroke-linejoin="round"/><path d="M915.2 590 L915.2 668" fill="none" stroke="#e0603a" stroke-width="2.1" stroke-linejoin="round"/>
<path d="M925 590 L925 668" fill="none" stroke="#fff" stroke-opacity="0.55" stroke-width="5.3" stroke-linejoin="round"/><path d="M925 590 L925 668" fill="none" stroke="#3a1c14" stroke-opacity="0.16" stroke-width="4.1" stroke-linejoin="round"/><path d="M925 590 L925 668" fill="none" stroke="#3a1c14" stroke-width="2.1" stroke-linejoin="round"/>
<path d="M877.7 370 L877.7 434" fill="none" stroke="#fff" stroke-opacity="0.55" stroke-width="5.3" stroke-linejoin="round"/><path d="M877.7 370 L877.7 434" fill="none" stroke="#2f9a36" stroke-opacity="0.16" stroke-width="4.1" stroke-linejoin="round"/><path d="M877.7 370 L877.7 434" fill="none" stroke="#2f9a36" stroke-width="2.1" stroke-linejoin="round"/>
<path d="M886.1 370 L886.1 434" fill="none" stroke="#fff" stroke-opacity="0.55" stroke-width="5.3" stroke-linejoin="round"/><path d="M886.1 370 L886.1 434" fill="none" stroke="#d83a2c" stroke-opacity="0.16" stroke-width="4.1" stroke-linejoin="round"/><path d="M886.1 370 L886.1 434" fill="none" stroke="#d83a2c" stroke-width="2.1" stroke-linejoin="round"/>
<path d="M901.8 370 L901.8 434" fill="none" stroke="#fff" stroke-opacity="0.55" stroke-width="5.3" stroke-linejoin="round"/><path d="M901.8 370 L901.8 434" fill="none" stroke="#e3672a" stroke-opacity="0.16" stroke-width="4.1" stroke-linejoin="round"/><path d="M901.8 370 L901.8 434" fill="none" stroke="#e3672a" stroke-width="2.1" stroke-linejoin="round"/>
<path d="M910.4 370 L910.4 434" fill="none" stroke="#fff" stroke-opacity="0.55" stroke-width="5.3" stroke-linejoin="round"/><path d="M910.4 370 L910.4 434" fill="none" stroke="#2c58c8" stroke-opacity="0.16" stroke-width="4.1" stroke-linejoin="round"/><path d="M910.4 370 L910.4 434" fill="none" stroke="#2c58c8" stroke-width="2.1" stroke-linejoin="round"/>
<rect x="769" y="675.5" width="90" height="1.2" fill="#d4d4d4"/>
<g transform="translate(586.3 307.6)"><path d="M0 8 Q0 0 9 0 L111.7 0 Q120.7 0 120.7 8 L120.7 125.8 L0 125.8 Z" fill="url(#invg)"/><rect x="0" y="4" width="10.5" height="120.8" fill="#c4c4c4" fill-opacity="0.55"/><rect x="109.9" y="4" width="10.8" height="120.8" fill="#c4c4c4" fill-opacity="0.45"/><rect x="10.5" y="1" width="0.8" height="123.8" fill="#dcdcdc"/><circle cx="2.2" cy="13.3" r="1.4" fill="#777"/><circle cx="118.5" cy="13.3" r="1.4" fill="#777"/><circle cx="2.2" cy="67" r="1.4" fill="#777"/><circle cx="118.5" cy="67" r="1.4" fill="#777"/><circle cx="2.2" cy="121" r="1.4" fill="#777"/><circle cx="118.5" cy="121" r="1.4" fill="#777"/><path d="M0 124.8 L120.7 124.8 L120.7 135.8 L113.7 146.1 L8 146.1 L0 135.8 Z" fill="#232323"/><rect x="42.7" y="129.6" width="42.2" height="8.4" fill="#0e0e0e"/><circle cx="48" cy="133.8" r="1.1" fill="#3a6a3a"/><circle cx="54" cy="133.8" r="1.1" fill="#5ac04a"/><circle cx="59" cy="133.8" r="1.1" fill="#556"/><circle cx="64" cy="133.8" r="1.1" fill="#556"/><circle cx="72" cy="133.8" r="1.1" fill="#6a9a5a"/><circle cx="76" cy="133.8" r="1.1" fill="#889"/><circle cx="80" cy="133.8" r="1.1" fill="#889"/><circle cx="17" cy="141.8" r="1.6" fill="#0a0a0a"/><circle cx="106.7" cy="141.8" r="1.6" fill="#0a0a0a"/><text x="31.5" y="67.8" font-size="10.2" fill="#151515" stroke="#151515" stroke-width="0.45" textLength="56" lengthAdjust="spacingAndGlyphs">INIVMIOR</text></g>
<g transform="translate(833.8 433.3)"><path d="M0 8 Q0 0 9 0 L111.7 0 Q120.7 0 120.7 8 L120.7 125.8 L0 125.8 Z" fill="url(#invg)"/><rect x="0" y="4" width="10.5" height="120.8" fill="#c4c4c4" fill-opacity="0.55"/><rect x="109.9" y="4" width="10.8" height="120.8" fill="#c4c4c4" fill-opacity="0.45"/><rect x="10.5" y="1" width="0.8" height="123.8" fill="#dcdcdc"/><circle cx="2.2" cy="13.3" r="1.4" fill="#777"/><circle cx="118.5" cy="13.3" r="1.4" fill="#777"/><circle cx="2.2" cy="67" r="1.4" fill="#777"/><circle cx="118.5" cy="67" r="1.4" fill="#777"/><circle cx="2.2" cy="121" r="1.4" fill="#777"/><circle cx="118.5" cy="121" r="1.4" fill="#777"/><path d="M0 124.8 L120.7 124.8 L120.7 135.8 L113.7 146.1 L8 146.1 L0 135.8 Z" fill="#232323"/><rect x="42.7" y="129.6" width="42.2" height="8.4" fill="#0e0e0e"/><circle cx="48" cy="133.8" r="1.1" fill="#3a6a3a"/><circle cx="54" cy="133.8" r="1.1" fill="#5ac04a"/><circle cx="59" cy="133.8" r="1.1" fill="#556"/><circle cx="64" cy="133.8" r="1.1" fill="#556"/><circle cx="72" cy="133.8" r="1.1" fill="#6a9a5a"/><circle cx="76" cy="133.8" r="1.1" fill="#889"/><circle cx="80" cy="133.8" r="1.1" fill="#889"/><circle cx="17" cy="141.8" r="1.6" fill="#0a0a0a"/><circle cx="106.7" cy="141.8" r="1.6" fill="#0a0a0a"/><text x="33.2" y="66.8" font-size="10.2" fill="#151515" stroke="#151515" stroke-width="0.45" textLength="56.7" lengthAdjust="spacingAndGlyphs">INVMUOR</text></g>
<circle cx="675.5" cy="368.5" r="0.9" fill="#222"/>
<circle cx="924" cy="493" r="1.1" fill="#c03020"/>
<rect x="614.1" y="453.7" width="6.8" height="17.2" fill="#5a2228"/>
<rect x="614.9" y="453.7" width="1.2" height="17.2" fill="#fff" fill-opacity="0.18"/>
<rect x="622.25" y="453.7" width="5.9" height="17.2" fill="#e0602a"/>
<rect x="623.05" y="453.7" width="1.2" height="17.2" fill="#fff" fill-opacity="0.18"/>
<rect x="631.25" y="453.7" width="5.9" height="17.2" fill="#e8c040"/>
<rect x="632.05" y="453.7" width="1.2" height="17.2" fill="#fff" fill-opacity="0.18"/>
<rect x="638.3" y="453.7" width="5.4" height="17.2" fill="#3a2418"/>
<rect x="639.1" y="453.7" width="1.2" height="17.2" fill="#fff" fill-opacity="0.18"/>
<rect x="653.25" y="453.7" width="6.5" height="17.2" fill="#2a2222"/>
<rect x="654.05" y="453.7" width="1.2" height="17.2" fill="#fff" fill-opacity="0.18"/>
<rect x="661.95" y="453.7" width="6.5" height="17.2" fill="#e0642a"/>
<rect x="662.75" y="453.7" width="1.2" height="17.2" fill="#fff" fill-opacity="0.18"/>
<rect x="669.6" y="453.7" width="1.8" height="17.2" fill="#3a6ad8"/>
<rect x="670.4" y="453.7" width="1.2" height="17.2" fill="#fff" fill-opacity="0.18"/>
<rect x="674.3" y="453.7" width="6.4" height="17.2" fill="#d83a2c"/>
<rect x="675.1" y="453.7" width="1.2" height="17.2" fill="#fff" fill-opacity="0.18"/>
<rect x="861.6" y="578.2" width="5.8" height="17.6" fill="#e0502a"/>
<rect x="862.4" y="578.2" width="1.2" height="17.6" fill="#fff" fill-opacity="0.18"/>
<rect x="871.1" y="578.2" width="5.8" height="17.6" fill="#2a5ad0"/>
<rect x="871.9" y="578.2" width="1.2" height="17.6" fill="#fff" fill-opacity="0.18"/>
<rect x="879.55" y="578.2" width="5.9" height="17.6" fill="#e8882a"/>
<rect x="880.35" y="578.2" width="1.2" height="17.6" fill="#fff" fill-opacity="0.18"/>
<rect x="886.55" y="578.2" width="3.9" height="17.6" fill="#5a2a7a"/>
<rect x="887.35" y="578.2" width="1.2" height="17.6" fill="#fff" fill-opacity="0.18"/>
<rect x="896.65" y="578.2" width="5.9" height="17.6" fill="#2f9a36"/>
<rect x="897.45" y="578.2" width="1.2" height="17.6" fill="#fff" fill-opacity="0.18"/>
<rect x="912.25" y="578.2" width="5.9" height="17.6" fill="#e05a2a"/>
<rect x="913.05" y="578.2" width="1.2" height="17.6" fill="#fff" fill-opacity="0.18"/>
<rect x="922" y="578.2" width="6" height="17.6" fill="#1a1a1a"/>
<rect x="922.8" y="578.2" width="1.2" height="17.6" fill="#fff" fill-opacity="0.18"/>
<polygon points="830.6,278.9 954,278.9 969.2,360.2 817.6,360.2" fill="#c9ccd2"/>
<polygon points="817.6,358 969.2,358 969.2,360.2 817.6,360.2" fill="#aeb2b8"/>
<polygon points="831.71,280.1 860.58,280.1 857.98,314.69 826.31,314.69" fill="url(#cellg)"/>
<path d="M830.81 285.87L860.15 285.87M829.91 291.63L859.72 291.63M829.01 297.4L859.28 297.4M828.11 303.16L858.85 303.16M827.21 308.93L858.41 308.93M834.92 280.1L829.83 314.69M838.13 280.1L833.35 314.69M841.34 280.1L836.86 314.69M844.54 280.1L840.38 314.69M847.75 280.1L843.9 314.69M850.96 280.1L847.42 314.69M854.17 280.1L850.94 314.69M857.38 280.1L854.46 314.69" stroke="#9aa3c0" stroke-width="0.75" fill="none" stroke-opacity="0.85"/>
<polygon points="862.49,280.1 891.36,280.1 891.74,314.69 860.07,314.69" fill="url(#cellg)"/>
<path d="M862.09 285.87L891.43 285.87M861.68 291.63L891.49 291.63M861.28 297.4L891.55 297.4M860.88 303.16L891.61 303.16M860.47 308.93L891.68 308.93M865.7 280.1L863.59 314.69M868.91 280.1L867.11 314.69M872.11 280.1L870.63 314.69M875.32 280.1L874.14 314.69M878.53 280.1L877.66 314.69M881.74 280.1L881.18 314.69M884.95 280.1L884.7 314.69M888.16 280.1L888.22 314.69" stroke="#9aa3c0" stroke-width="0.75" fill="none" stroke-opacity="0.85"/>
<polygon points="893.27,280.1 922.14,280.1 925.5,314.69 893.83,314.69" fill="url(#cellg)"/>
<path d="M893.36 285.87L922.7 285.87M893.46 291.63L923.26 291.63M893.55 297.4L923.82 297.4M893.64 303.16L924.38 303.16M893.74 308.93L924.94 308.93M896.48 280.1L897.35 314.69M899.69 280.1L900.87 314.69M902.89 280.1L904.39 314.69M906.1 280.1L907.91 314.69M909.31 280.1L911.42 314.69M912.52 280.1L914.94 314.69M915.73 280.1L918.46 314.69M918.93 280.1L921.98 314.69" stroke="#9aa3c0" stroke-width="0.75" fill="none" stroke-opacity="0.85"/>
<polygon points="924.05,280.1 952.92,280.1 959.26,314.69 927.59,314.69" fill="url(#cellg)"/>
<path d="M924.64 285.87L953.98 285.87M925.23 291.63L955.03 291.63M925.82 297.4L956.09 297.4M926.41 303.16L957.15 303.16M927 308.93L958.2 308.93M927.26 280.1L931.11 314.69M930.46 280.1L934.63 314.69M933.67 280.1L938.15 314.69M936.88 280.1L941.67 314.69M940.09 280.1L945.19 314.69M943.3 280.1L948.7 314.69M946.5 280.1L952.22 314.69M949.71 280.1L955.74 314.69" stroke="#9aa3c0" stroke-width="0.75" fill="none" stroke-opacity="0.85"/>
<polygon points="825.93,317.09 857.8,317.09 854.77,357.2 819.67,357.2" fill="url(#cellg)"/>
<path d="M824.89 323.78L857.29 323.78M823.84 330.46L856.79 330.46M822.8 337.15L856.29 337.15M821.75 343.83L855.78 343.83M820.71 350.52L855.28 350.52M829.47 317.09L823.57 357.2M833.01 317.09L827.47 357.2M836.55 317.09L831.37 357.2M840.09 317.09L835.27 357.2M843.63 317.09L839.17 357.2M847.18 317.09L843.07 357.2M850.72 317.09L846.97 357.2M854.26 317.09L850.87 357.2" stroke="#9aa3c0" stroke-width="0.75" fill="none" stroke-opacity="0.85"/>
<polygon points="859.9,317.09 891.76,317.09 892.2,357.2 857.09,357.2" fill="url(#cellg)"/>
<path d="M859.43 323.78L891.84 323.78M858.96 330.46L891.91 330.46M858.5 337.15L891.98 337.15M858.03 343.83L892.06 343.83M857.56 350.52L892.13 350.52M863.44 317.09L860.99 357.2M866.98 317.09L864.89 357.2M870.52 317.09L868.79 357.2M874.06 317.09L872.7 357.2M877.6 317.09L876.6 357.2M881.14 317.09L880.5 357.2M884.68 317.09L884.4 357.2M888.22 317.09L888.3 357.2" stroke="#9aa3c0" stroke-width="0.75" fill="none" stroke-opacity="0.85"/>
<polygon points="893.87,317.09 925.73,317.09 929.63,357.2 894.52,357.2" fill="url(#cellg)"/>
<path d="M893.98 323.78L926.38 323.78M894.09 330.46L927.03 330.46M894.19 337.15L927.68 337.15M894.3 343.83L928.33 343.83M894.41 350.52L928.98 350.52M897.41 317.09L898.42 357.2M900.95 317.09L902.32 357.2M904.49 317.09L906.22 357.2M908.03 317.09L910.12 357.2M911.57 317.09L914.02 357.2M915.11 317.09L917.92 357.2M918.65 317.09L921.82 357.2M922.19 317.09L925.73 357.2" stroke="#9aa3c0" stroke-width="0.75" fill="none" stroke-opacity="0.85"/>
<polygon points="927.84,317.09 959.7,317.09 967.05,357.2 931.94,357.2" fill="url(#cellg)"/>
<path d="M928.52 323.78L960.93 323.78M929.21 330.46L962.15 330.46M929.89 337.15L963.38 337.15M930.58 343.83L964.6 343.83M931.26 350.52L965.83 350.52M931.38 317.09L935.85 357.2M934.92 317.09L939.75 357.2M938.46 317.09L943.65 357.2M942 317.09L947.55 357.2M945.54 317.09L951.45 357.2M949.08 317.09L955.35 357.2M952.62 317.09L959.25 357.2M956.16 317.09L963.15 357.2" stroke="#9aa3c0" stroke-width="0.75" fill="none" stroke-opacity="0.85"/>
<rect x="872.4" y="360.2" width="42.3" height="5.2" fill="#c2c4c6"/>
<rect x="872.4" y="360.2" width="42.3" height="1.2" fill="#d6d8da"/>
<rect x="875.4" y="365.4" width="4.6" height="9.6" fill="#2f9a36"/>
<rect x="876.2" y="365.4" width="1.2" height="9.6" fill="#fff" fill-opacity="0.18"/>
<rect x="883.8" y="365.4" width="4.6" height="9.6" fill="#d83a2c"/>
<rect x="884.6" y="365.4" width="1.2" height="9.6" fill="#fff" fill-opacity="0.18"/>
<rect x="899.5" y="365.4" width="4.6" height="9.6" fill="#e3672a"/>
<rect x="900.3" y="365.4" width="1.2" height="9.6" fill="#fff" fill-opacity="0.18"/>
<rect x="908.1" y="365.4" width="4.6" height="9.6" fill="#2c58c8"/>
<rect x="908.9" y="365.4" width="1.2" height="9.6" fill="#fff" fill-opacity="0.18"/>
<g transform="translate(509.5 -33.5)"><path d="M362.5 706 Q362.5 703.7 365 703.7 L369.6 703.7 L369.6 696 L391 696 L391 759.4 L362.5 759.4 Z" fill="#d6d6d6"/><rect x="369.6" y="695.5" width="8.2" height="16" rx="1.5" fill="#6e6e6e"/><rect x="371" y="695.5" width="2" height="16" fill="#888"/><rect x="383" y="696" width="1.6" height="16" fill="#c8283c"/><rect x="386" y="696" width="1.6" height="16" fill="#5a1a1a"/><rect x="371.9" y="715.5" width="11.7" height="37.5" fill="#e4e4e4"/><g fill="#3a3a3a" fill-opacity="0.8"><rect x="373" y="717" width="2.4" height="2"/><rect x="376.6" y="717.6" width="2.2" height="2"/><rect x="380.2" y="717" width="2.2" height="2"/><rect x="373" y="721" width="2.4" height="2"/><rect x="376.6" y="721.6" width="2.2" height="2"/><rect x="380.2" y="721" width="2.2" height="2"/><rect x="373" y="725" width="2.4" height="2"/><rect x="376.6" y="725.6" width="2.2" height="2"/><rect x="380.2" y="725" width="2.2" height="2"/><rect x="373" y="729" width="2.4" height="2"/><rect x="376.6" y="729.6" width="2.2" height="2"/><rect x="380.2" y="729" width="2.2" height="2"/><rect x="373" y="733" width="2.4" height="2"/><rect x="376.6" y="733.6" width="2.2" height="2"/><rect x="380.2" y="733" width="2.2" height="2"/><rect x="373" y="737" width="2.4" height="2"/><rect x="376.6" y="737.6" width="2.2" height="2"/><rect x="380.2" y="737" width="2.2" height="2"/><rect x="373" y="741" width="2.4" height="2"/><rect x="376.6" y="741.6" width="2.2" height="2"/><rect x="380.2" y="741" width="2.2" height="2"/><rect x="373" y="745" width="2.4" height="2"/><rect x="376.6" y="745.6" width="2.2" height="2"/><rect x="380.2" y="745" width="2.2" height="2"/><rect x="373" y="749" width="2.4" height="2"/><rect x="376.6" y="749.6" width="2.2" height="2"/><rect x="380.2" y="749" width="2.2" height="2"/></g><path d="M388.3 696.7 L431 696.7 L436.6 706 L436.6 759.4 L388.3 759.4 Z" fill="#d4d4d4"/><rect x="391" y="713.1" width="44.7" height="37" fill="#dfdfdf"/><rect x="391" y="713.1" width="44.7" height="1" fill="#bdbdbd"/><rect x="393" y="727" width="41" height="1" fill="#c4c4c4"/><rect x="401.8" y="695" width="8.2" height="17.5" fill="#e2542a"/><rect x="411.1" y="695" width="8.2" height="17.5" fill="#e2542a"/><rect x="402.5" y="695" width="1.5" height="17.5" fill="#f08a60" fill-opacity="0.6"/><rect x="411.8" y="695" width="1.5" height="17.5" fill="#f08a60" fill-opacity="0.6"/><rect x="420.5" y="695" width="6.5" height="17.5" fill="#2d2f2d"/><rect x="422" y="698" width="2" height="5" fill="#9aa89a"/><circle cx="397.1" cy="733.6" r="4.3" fill="#1a2c1a"/><circle cx="397.1" cy="733.9" r="3.0" fill="#2e5e2a"/><path d="M395.6 733.9 h3 M397.1 732.4 v3" stroke="#6a9a5a" stroke-width="0.6"/><circle cx="407.6" cy="733.6" r="4.3" fill="#1a2c1a"/><circle cx="407.6" cy="733.9" r="3.0" fill="#2e5e2a"/><path d="M406.1 733.9 h3 M407.6 732.4 v3" stroke="#6a9a5a" stroke-width="0.6"/><circle cx="418.4" cy="733.6" r="4.3" fill="#1a2c1a"/><circle cx="418.4" cy="733.9" r="3.0" fill="#2e5e2a"/><path d="M416.9 733.9 h3 M418.4 732.4 v3" stroke="#6a9a5a" stroke-width="0.6"/><circle cx="428.7" cy="733.6" r="4.3" fill="#1a2c1a"/><circle cx="428.7" cy="733.9" r="3.0" fill="#2e5e2a"/><path d="M427.2 733.9 h3 M428.7 732.4 v3" stroke="#6a9a5a" stroke-width="0.6"/><g fill="#333" fill-opacity="0.75"><rect x="393" y="744.5" width="2.6" height="2.2"/><rect x="397.2" y="744.5" width="2.6" height="2.2"/><rect x="401.4" y="744.5" width="2.6" height="2.2"/><rect x="405.6" y="744.5" width="2.6" height="2.2"/><rect x="409.8" y="744.5" width="2.6" height="2.2"/><rect x="414" y="744.5" width="2.6" height="2.2"/><rect x="418.2" y="744.5" width="2.6" height="2.2"/><rect x="422.4" y="744.5" width="2.6" height="2.2"/><rect x="426.6" y="744.5" width="2.6" height="2.2"/><rect x="430.8" y="744.5" width="2.6" height="2.2"/></g><rect x="391" y="750.6" width="44.7" height="4.7" fill="#3b3b3b"/><g fill="#9a9a9a"><rect x="393" y="752" width="1.4" height="1.4"/><rect x="396.9" y="752" width="1.4" height="1.4"/><rect x="400.8" y="752" width="1.4" height="1.4"/><rect x="404.7" y="752" width="1.4" height="1.4"/><rect x="408.6" y="752" width="1.4" height="1.4"/><rect x="412.5" y="752" width="1.4" height="1.4"/><rect x="416.4" y="752" width="1.4" height="1.4"/><rect x="420.3" y="752" width="1.4" height="1.4"/><rect x="424.2" y="752" width="1.4" height="1.4"/><rect x="428.1" y="752" width="1.4" height="1.4"/><rect x="432" y="752" width="1.4" height="1.4"/></g><rect x="362.5" y="754.1" width="73.2" height="5.3" fill="#9c9c9c"/><path d="M366 759.4 L384.2 759.4 L384.2 795.7 L369 795.7 Z" fill="#858585"/><rect x="384.2" y="759.4" width="18.8" height="36.3" fill="#d2d2d2"/><path d="M403 759.4 L434.6 759.4 L433.5 788 L427 788 L427 795.7 L403 795.7 Z" fill="#7e7e7e"/><rect x="371.8" y="775.8" width="1.8" height="19.5" fill="#111"/><rect x="376.9" y="775.8" width="1.8" height="19.5" fill="#c8283c"/><rect x="379" y="775.8" width="1.2" height="19.5" fill="#eee"/><rect x="408.8" y="774" width="2" height="2" fill="#111"/><rect x="412" y="774" width="1.4" height="21" fill="#3a5ad8"/><rect x="414.5" y="774" width="1.4" height="21" fill="#5a2a8a"/><rect x="416.9" y="774" width="1.6" height="21" fill="#c8283c"/><rect x="420.5" y="774" width="5.9" height="21.5" fill="#5aa060"/><rect x="420.5" y="773.5" width="5.9" height="2" fill="#1a1a1a"/><rect x="349.3" y="711.4" width="12.4" height="42.1" fill="#1d1d1d"/><g fill="#4a4a4a"><rect x="352.5" y="715" width="3" height="1" /><rect x="352.5" y="719.2" width="3" height="1" /><rect x="352.5" y="723.4" width="3" height="1" /><rect x="352.5" y="727.6" width="3" height="1" /><rect x="352.5" y="731.8" width="3" height="1" /><rect x="352.5" y="736" width="3" height="1" /><rect x="352.5" y="740.2" width="3" height="1" /><rect x="352.5" y="744.4" width="3" height="1" /><rect x="352.5" y="748.6" width="3" height="1" /></g></g>
<rect x="847.7" y="690.5" width="11" height="5" fill="#6a2a8a"/>
<rect x="847.7" y="697.5" width="11" height="5" fill="#f0a828"/>
<rect x="847.7" y="705.2" width="11" height="5" fill="#2a5ad0"/>
<text x="574.4" y="737.5" font-size="23.6" fill="#111" textLength="198.8" lengthAdjust="spacingAndGlyphs">Integrated Rapid</text>
<text x="575.4" y="765.6" font-size="23.6" fill="#111" textLength="213.7" lengthAdjust="spacingAndGlyphs">directy connected</text>
<text x="575.4" y="793.7" font-size="23.6" fill="#111" textLength="134.1" lengthAdjust="spacingAndGlyphs">componnts</text>
<text x="491.4" y="542.3" font-size="42" font-weight="bold" fill="#0a0a0a" textLength="25.6" lengthAdjust="spacingAndGlyphs">V</text>
<text x="513.1" y="551.6" font-size="44.5" font-weight="bold" fill="#0a0a0a" textLength="26.4" lengthAdjust="spacingAndGlyphs">S</text>
</svg></body></html>
